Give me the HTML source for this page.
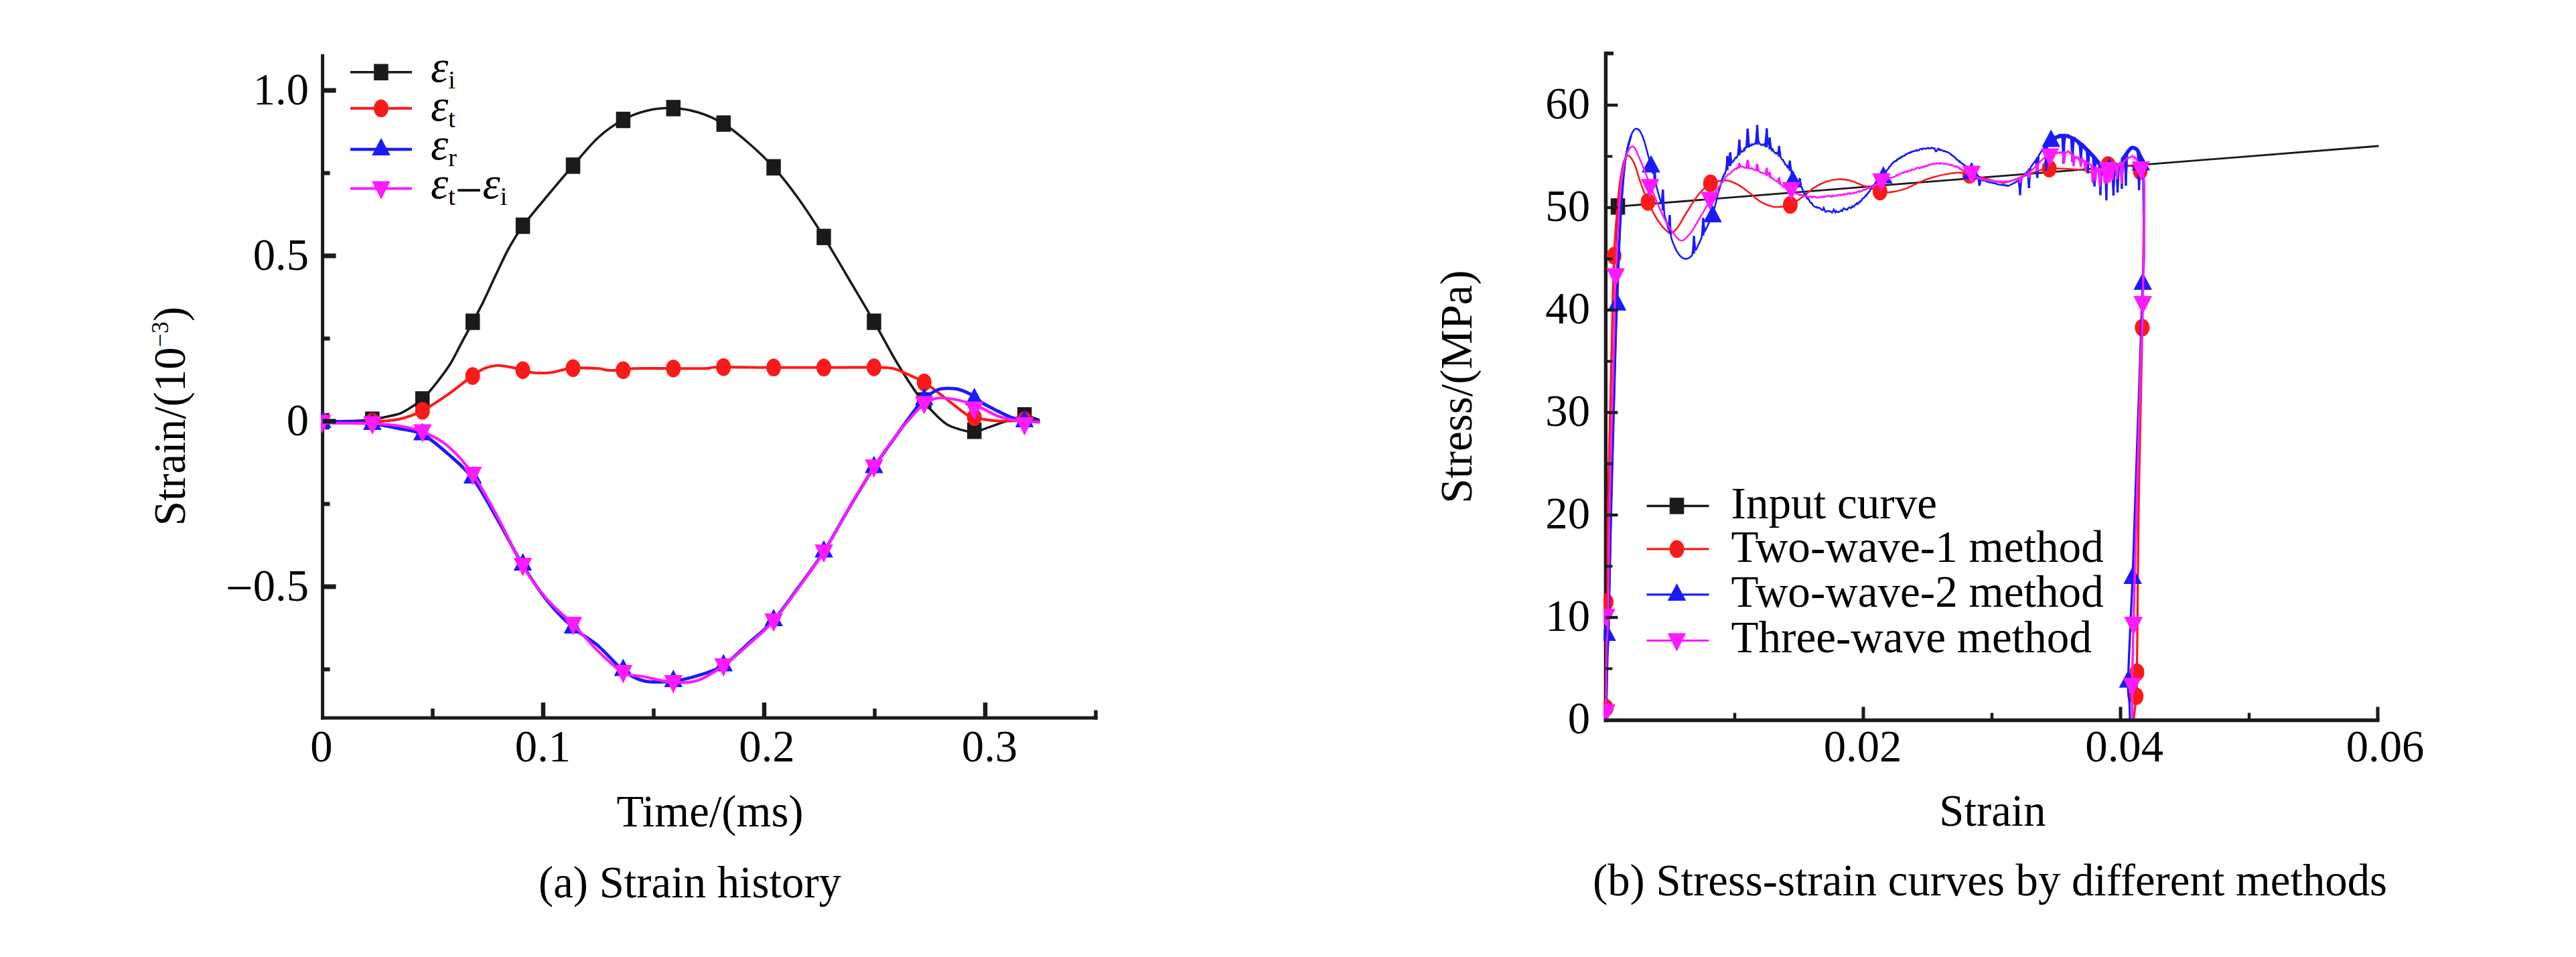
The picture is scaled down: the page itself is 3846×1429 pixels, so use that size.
<!DOCTYPE html>
<html lang="en"><head><meta charset="utf-8"><title>Strain history and stress-strain curves</title>
<style>html,body{margin:0;padding:0;background:#fff}svg{display:block}</style></head>
<body>
<svg width="3846" height="1429" viewBox="0 0 3846 1429">
<rect width="3846" height="1429" fill="#fff"/>
<defs><clipPath id="cl"><rect x="479" y="60" width="1200" height="1013"/></clipPath><clipPath id="cr"><rect x="2394.2" y="60" width="1300" height="1013"/></clipPath></defs>
<path d="M481.6 81 V1074.5" stroke="#1a1a1a" stroke-width="5" fill="none"/>
<g clip-path="url(#cl)" fill="none" stroke-linejoin="round" stroke-linecap="butt">
<path d="M481.0 629.0 C487.5 628.9 507.5 629.0 520.0 628.6 C532.5 628.2 546.7 627.7 555.9 626.7 C565.1 625.7 568.0 624.4 575.0 622.8 C582.0 621.2 590.7 619.9 597.6 617.2 C604.5 614.5 610.9 609.9 616.4 606.4 C621.9 602.9 624.2 602.5 630.5 596.2 C636.8 589.9 647.0 577.8 654.0 568.8 C661.0 559.8 667.2 551.6 672.8 542.5 C678.4 533.4 682.3 524.6 687.8 514.3 C693.3 504.0 700.4 491.1 706.0 480.5 C711.6 469.9 716.0 462.1 721.7 450.4 C727.5 438.6 734.2 423.1 740.5 410.0 C746.8 396.9 752.5 383.7 759.3 371.5 C766.0 359.3 771.2 350.3 781.0 337.0 C790.8 323.7 805.6 306.4 818.0 291.5 C830.4 276.6 843.0 261.6 855.5 247.3 C868.0 233.0 880.6 216.9 893.0 205.5 C905.4 194.1 917.7 185.8 930.0 179.0 C942.3 172.2 954.5 167.9 967.0 165.0 C979.5 162.1 992.3 160.9 1005.0 161.4 C1017.7 161.9 1030.5 164.1 1043.0 168.0 C1055.5 171.9 1067.7 177.1 1080.0 184.6 C1092.3 192.1 1104.5 202.1 1117.0 213.0 C1129.5 223.9 1142.5 235.9 1155.0 249.8 C1167.5 263.7 1179.5 279.1 1192.0 296.5 C1204.5 313.9 1217.5 334.0 1230.0 353.9 C1242.5 373.8 1254.5 394.9 1267.0 416.0 C1279.5 437.1 1292.8 459.3 1305.0 480.5 C1317.2 501.7 1328.8 524.4 1340.0 543.0 C1351.2 561.6 1363.9 580.7 1372.0 592.0 C1380.1 603.3 1381.7 603.8 1388.7 610.8 C1395.7 617.8 1404.6 628.3 1413.8 633.8 C1423.0 639.3 1436.9 642.4 1443.7 644.0 C1450.5 645.6 1451.0 643.8 1454.5 643.5 C1458.0 643.2 1457.8 644.1 1465.0 642.0 C1472.2 639.9 1486.6 634.0 1497.4 630.6 C1508.2 627.2 1520.6 622.1 1529.7 621.5 C1538.8 620.9 1548.3 626.1 1552.0 627.0" stroke="#1a1a1a" stroke-width="3.6"/>
<rect x="470.2" y="616.8" width="21.5" height="24.5" fill="#1a1a1a"/><rect x="545.1" y="614.5" width="21.5" height="24.5" fill="#1a1a1a"/><rect x="620.0" y="584.2" width="21.5" height="24.5" fill="#1a1a1a"/><rect x="695.0" y="468.2" width="21.5" height="24.5" fill="#1a1a1a"/><rect x="769.9" y="324.8" width="21.5" height="24.5" fill="#1a1a1a"/><rect x="844.8" y="235.1" width="21.5" height="24.5" fill="#1a1a1a"/><rect x="919.7" y="166.8" width="21.5" height="24.5" fill="#1a1a1a"/><rect x="994.6" y="149.2" width="21.5" height="24.5" fill="#1a1a1a"/><rect x="1069.5" y="172.3" width="21.5" height="24.5" fill="#1a1a1a"/><rect x="1144.3" y="237.6" width="21.5" height="24.5" fill="#1a1a1a"/><rect x="1219.2" y="341.6" width="21.5" height="24.5" fill="#1a1a1a"/><rect x="1294.2" y="468.2" width="21.5" height="24.5" fill="#1a1a1a"/><rect x="1369.1" y="585.8" width="21.5" height="24.5" fill="#1a1a1a"/><rect x="1444.0" y="631.0" width="21.5" height="24.5" fill="#1a1a1a"/><rect x="1518.9" y="608.0" width="21.5" height="24.5" fill="#1a1a1a"/>
<path d="M481.0 629.0 C487.5 629.1 507.6 629.4 520.0 629.5 C532.4 629.6 542.7 630.3 555.3 629.7 C567.9 629.1 582.9 628.7 595.4 626.0 C607.9 623.3 618.0 619.8 630.5 613.4 C643.0 607.0 658.2 596.4 670.6 587.8 C683.0 579.1 696.2 567.8 705.0 561.5 C713.8 555.2 716.9 552.8 723.3 550.2 C729.7 547.6 736.3 545.9 743.4 545.7 C750.5 545.5 759.9 547.8 766.0 549.0 C772.1 550.2 775.2 551.5 780.2 552.7 C785.2 554.0 789.2 555.9 796.0 556.5 C802.8 557.1 814.0 557.1 821.1 556.5 C828.2 555.9 833.0 553.8 838.6 552.7 C844.2 551.6 845.8 550.1 855.0 549.7 C864.2 549.3 885.3 549.7 893.8 550.2 C902.3 550.7 899.9 552.3 906.0 552.7 C912.1 553.1 923.5 553.1 930.2 552.7 C937.0 552.3 934.0 550.6 946.5 550.2 C959.0 549.8 987.5 550.2 1005.4 550.2 C1023.3 550.2 1042.9 550.5 1054.0 550.2 C1065.1 549.9 1055.2 548.4 1072.0 548.2 C1088.8 548.0 1128.7 548.7 1155.0 548.8 C1181.3 548.9 1205.0 548.8 1230.0 548.8 C1255.0 548.8 1288.0 548.3 1305.0 548.5 C1322.0 548.7 1324.3 548.6 1332.0 550.0 C1339.7 551.4 1343.0 553.5 1351.0 557.0 C1359.0 560.5 1370.9 565.5 1380.0 571.0 C1389.1 576.5 1394.9 581.9 1405.4 589.9 C1415.9 597.9 1434.7 613.4 1443.0 619.0 C1451.3 624.6 1447.3 621.9 1455.0 623.5 C1462.7 625.1 1476.5 627.8 1489.0 628.5 C1501.5 629.2 1519.4 628.0 1530.0 628.0 C1540.6 628.0 1549.0 628.4 1552.8 628.5" stroke="#fb1a1a" stroke-width="4.1"/>
<ellipse cx="481.0" cy="629.0" rx="11" ry="13.2" fill="#fb1a1a"/><ellipse cx="555.9" cy="629.5" rx="11" ry="13.2" fill="#fb1a1a"/><ellipse cx="630.8" cy="613.4" rx="11" ry="13.2" fill="#fb1a1a"/><ellipse cx="705.7" cy="561.5" rx="11" ry="13.2" fill="#fb1a1a"/><ellipse cx="780.6" cy="552.7" rx="11" ry="13.2" fill="#fb1a1a"/><ellipse cx="855.5" cy="549.7" rx="11" ry="13.2" fill="#fb1a1a"/><ellipse cx="930.4" cy="552.7" rx="11" ry="13.2" fill="#fb1a1a"/><ellipse cx="1005.3" cy="550.2" rx="11" ry="13.2" fill="#fb1a1a"/><ellipse cx="1080.2" cy="548.2" rx="11" ry="13.2" fill="#fb1a1a"/><ellipse cx="1155.1" cy="548.8" rx="11" ry="13.2" fill="#fb1a1a"/><ellipse cx="1230.0" cy="548.8" rx="11" ry="13.2" fill="#fb1a1a"/><ellipse cx="1304.9" cy="548.5" rx="11" ry="13.2" fill="#fb1a1a"/><ellipse cx="1379.8" cy="571.0" rx="11" ry="13.2" fill="#fb1a1a"/><ellipse cx="1454.7" cy="623.0" rx="11" ry="13.2" fill="#fb1a1a"/><ellipse cx="1529.6" cy="627.5" rx="11" ry="13.2" fill="#fb1a1a"/>
<path d="M481.0 629.5 C487.5 629.5 507.7 629.4 520.0 629.8 C532.3 630.2 542.8 630.4 555.0 632.0 C567.2 633.6 580.4 636.8 593.0 639.5 C605.6 642.2 617.9 642.2 630.4 648.5 C642.9 654.8 655.4 666.0 668.0 677.0 C680.6 688.0 693.5 698.0 706.0 714.5 C718.5 731.0 730.7 754.6 743.0 776.0 C755.3 797.4 767.7 822.8 780.0 843.0 C792.3 863.2 804.4 881.3 817.0 897.0 C829.6 912.7 842.9 925.8 855.5 937.0 C868.1 948.2 880.3 953.4 892.7 964.0 C905.1 974.6 918.5 991.7 930.0 1000.5 C941.5 1009.3 949.5 1014.0 962.0 1016.8 C974.5 1019.5 992.0 1018.3 1005.3 1017.0 C1018.6 1015.7 1029.5 1012.7 1042.0 1008.8 C1054.5 1004.9 1067.7 1001.5 1080.2 993.5 C1092.7 985.5 1104.5 972.2 1117.0 961.0 C1129.5 949.8 1142.5 940.0 1155.0 926.0 C1167.5 912.0 1179.5 894.1 1192.0 877.0 C1204.5 859.9 1217.5 843.0 1230.0 823.5 C1242.5 804.0 1254.5 781.0 1267.0 760.0 C1279.5 739.0 1292.5 716.7 1305.0 697.5 C1317.5 678.3 1330.8 660.6 1342.0 645.0 C1353.2 629.4 1365.7 612.2 1372.0 604.0 C1378.3 595.8 1377.2 598.6 1380.0 596.0 C1382.8 593.4 1384.8 591.0 1388.7 588.5 C1392.6 586.0 1397.0 582.3 1403.3 581.0 C1409.6 579.7 1419.7 579.7 1426.3 580.5 C1432.9 581.3 1438.2 583.7 1443.0 585.7 C1447.8 587.7 1450.8 589.7 1455.0 592.5 C1459.2 595.3 1462.3 598.9 1468.0 602.4 C1473.7 605.9 1482.0 610.0 1489.0 613.5 C1496.0 617.0 1503.2 620.9 1510.0 623.3 C1516.8 625.7 1522.7 627.0 1529.7 628.0 C1536.7 629.0 1548.3 628.8 1552.0 629.0" stroke="#1a1afb" stroke-width="4.8"/>
<path d="M481.0 613.0 L494.8 639.0 L467.2 639.0 Z" fill="#1a1afb"/><path d="M555.9 616.0 L569.7 642.0 L542.1 642.0 Z" fill="#1a1afb"/><path d="M630.8 631.5 L644.6 657.5 L617.0 657.5 Z" fill="#1a1afb"/><path d="M705.7 696.0 L719.5 722.0 L691.9 722.0 Z" fill="#1a1afb"/><path d="M780.6 826.0 L794.4 852.0 L766.8 852.0 Z" fill="#1a1afb"/><path d="M855.5 920.0 L869.3 946.0 L841.7 946.0 Z" fill="#1a1afb"/><path d="M930.4 983.5 L944.2 1009.5 L916.6 1009.5 Z" fill="#1a1afb"/><path d="M1005.3 1000.0 L1019.1 1026.0 L991.5 1026.0 Z" fill="#1a1afb"/><path d="M1080.2 976.5 L1094.0 1002.5 L1066.4 1002.5 Z" fill="#1a1afb"/><path d="M1155.1 909.0 L1168.9 935.0 L1141.3 935.0 Z" fill="#1a1afb"/><path d="M1230.0 806.5 L1243.8 832.5 L1216.2 832.5 Z" fill="#1a1afb"/><path d="M1304.9 680.5 L1318.7 706.5 L1291.1 706.5 Z" fill="#1a1afb"/><path d="M1379.8 579.0 L1393.6 605.0 L1366.0 605.0 Z" fill="#1a1afb"/><path d="M1454.7 579.0 L1468.5 605.0 L1440.9 605.0 Z" fill="#1a1afb"/><path d="M1529.6 612.0 L1543.4 638.0 L1515.8 638.0 Z" fill="#1a1afb"/>
<path d="M481.0 631.5 C487.5 631.6 507.7 631.8 520.0 632.0 C532.3 632.2 542.8 631.9 555.0 632.5 C567.2 633.1 580.4 633.5 593.0 635.5 C605.6 637.5 617.9 639.5 630.4 644.5 C642.9 649.5 655.4 654.9 668.0 665.5 C680.6 676.1 693.5 690.2 706.0 708.0 C718.5 725.8 730.7 749.3 743.0 772.0 C755.3 794.7 767.7 823.5 780.0 844.0 C792.3 864.5 804.4 880.3 817.0 895.0 C829.6 909.7 842.9 919.2 855.5 932.0 C868.1 944.8 880.3 960.0 892.7 972.0 C905.1 984.0 918.5 997.6 930.0 1004.0 C941.5 1010.4 949.5 1008.0 962.0 1010.5 C974.5 1013.0 992.0 1018.1 1005.3 1019.0 C1018.6 1019.9 1029.5 1020.1 1042.0 1015.9 C1054.5 1011.7 1067.7 1002.8 1080.2 994.0 C1092.7 985.2 1104.5 974.2 1117.0 963.0 C1129.5 951.8 1142.5 941.2 1155.0 927.0 C1167.5 912.8 1179.5 895.2 1192.0 878.0 C1204.5 860.8 1217.5 843.7 1230.0 824.0 C1242.5 804.3 1254.5 781.2 1267.0 760.0 C1279.5 738.8 1292.5 716.2 1305.0 697.0 C1317.5 677.8 1330.8 659.5 1342.0 645.0 C1353.2 630.5 1365.7 617.0 1372.0 610.0 C1378.3 603.0 1376.7 605.2 1380.0 603.0 C1383.3 600.8 1387.8 598.0 1392.0 596.5 C1396.2 595.0 1399.7 594.0 1405.4 594.0 C1411.1 594.0 1417.7 594.8 1426.0 596.5 C1434.3 598.2 1444.5 600.4 1455.0 604.5 C1465.5 608.6 1479.8 617.3 1489.0 621.0 C1498.2 624.7 1503.2 625.2 1510.0 626.5 C1516.8 627.8 1522.6 628.3 1529.7 629.0 C1536.8 629.7 1549.0 630.2 1552.8 630.5" stroke="#ff1aff" stroke-width="4.2"/>
<path d="M481.0 647.0 L494.8 619.5 L467.2 619.5 Z" fill="#ff1aff"/><path d="M555.9 649.0 L569.7 621.5 L542.1 621.5 Z" fill="#ff1aff"/><path d="M630.8 661.0 L644.6 633.5 L617.0 633.5 Z" fill="#ff1aff"/><path d="M705.7 724.5 L719.5 697.0 L691.9 697.0 Z" fill="#ff1aff"/><path d="M780.6 860.5 L794.4 833.0 L766.8 833.0 Z" fill="#ff1aff"/><path d="M855.5 948.5 L869.3 921.0 L841.7 921.0 Z" fill="#ff1aff"/><path d="M930.4 1020.5 L944.2 993.0 L916.6 993.0 Z" fill="#ff1aff"/><path d="M1005.3 1035.5 L1019.1 1008.0 L991.5 1008.0 Z" fill="#ff1aff"/><path d="M1080.2 1010.5 L1094.0 983.0 L1066.4 983.0 Z" fill="#ff1aff"/><path d="M1155.1 943.5 L1168.9 916.0 L1141.3 916.0 Z" fill="#ff1aff"/><path d="M1230.0 840.5 L1243.8 813.0 L1216.2 813.0 Z" fill="#ff1aff"/><path d="M1304.9 713.5 L1318.7 686.0 L1291.1 686.0 Z" fill="#ff1aff"/><path d="M1379.8 618.8 L1393.6 591.3 L1366.0 591.3 Z" fill="#ff1aff"/><path d="M1454.7 627.0 L1468.5 599.5 L1440.9 599.5 Z" fill="#ff1aff"/><path d="M1529.6 650.5 L1543.4 623.0 L1515.8 623.0 Z" fill="#ff1aff"/>
</g>
<g stroke="#1a1a1a" fill="none">
<path d="M479.1 1072.0 H1638.6" stroke-width="5"/>
<path d="M481.6 135.0 h20" stroke-width="7"/>
<path d="M481.6 382.0 h20" stroke-width="7"/>
<path d="M481.6 629.0 h20" stroke-width="7"/>
<path d="M481.6 876.0 h20" stroke-width="7"/>
<path d="M481.6 258.5 h11" stroke-width="6"/>
<path d="M481.6 505.5 h11" stroke-width="6"/>
<path d="M481.6 752.5 h11" stroke-width="6"/>
<path d="M481.6 999.5 h11" stroke-width="6"/>
<path d="M811.0 1072.0 v-23" stroke-width="6.5"/>
<path d="M1141.0 1072.0 v-23" stroke-width="6.5"/>
<path d="M1471.0 1072.0 v-23" stroke-width="6.5"/>
<path d="M646.0 1072.0 v-14" stroke-width="5.5"/>
<path d="M976.0 1072.0 v-14" stroke-width="5.5"/>
<path d="M1306.0 1072.0 v-14" stroke-width="5.5"/>
<path d="M1636.0 1074.5 v-14" stroke-width="5.5"/>
</g>
<g font-family="Liberation Serif, Times New Roman, serif" font-size="66.7" fill="#000">
<text x="461" y="156.0" text-anchor="end">1.0</text>
<text x="461" y="403.0" text-anchor="end">0.5</text>
<text x="461" y="650.0" text-anchor="end">0</text>
<text x="461" y="897.0" text-anchor="end"><tspan dy="5" font-size="72">−</tspan><tspan dy="-5">0.5</tspan></text>
<text x="480.0" y="1137" text-anchor="middle">0</text>
<text x="810.5" y="1137" text-anchor="middle">0.1</text>
<text x="1145.0" y="1137" text-anchor="middle">0.2</text>
<text x="1477.5" y="1137" text-anchor="middle">0.3</text>
<text x="1060" y="1233.5" text-anchor="middle">Time/(ms)</text>
<text x="1030" y="1339.5" text-anchor="middle">(a) Strain history</text>
<text transform="translate(275.5,621.5) rotate(-90)" text-anchor="middle">Strain/(10<tspan font-size="36" dy="-25">−3</tspan><tspan dy="25">)</tspan></text>
</g>
<path d="M523 107.8 H615" stroke="#1a1a1a" stroke-width="3.6"/>
<rect x="558.2" y="95.5" width="21.5" height="24.5" fill="#1a1a1a"/>
<path d="M523 161.8 H615" stroke="#fb1a1a" stroke-width="4.0"/>
<ellipse cx="569.0" cy="161.8" rx="11" ry="13.2" fill="#fb1a1a"/>
<path d="M523 223.0 H615" stroke="#1a1afb" stroke-width="4.4"/>
<path d="M569.0 206.0 L582.8 232.0 L555.2 232.0 Z" fill="#1a1afb"/>
<path d="M523 281.5 H615" stroke="#ff1aff" stroke-width="4.2"/>
<path d="M569.0 298.0 L582.8 270.5 L555.2 270.5 Z" fill="#ff1aff"/>
<g font-family="Liberation Serif, Times New Roman, serif" font-size="66.7" fill="#000">
<text x="643" y="122"><tspan font-style="italic" dy="0">ε</tspan><tspan font-size="38" dy="10">i</tspan></text>
<text x="643" y="180"><tspan font-style="italic" dy="0">ε</tspan><tspan font-size="38" dy="10">t</tspan></text>
<text x="643" y="238"><tspan font-style="italic" dy="0">ε</tspan><tspan font-size="38" dy="10">r</tspan></text>
<text x="643" y="296"><tspan font-style="italic" dy="0">ε</tspan><tspan font-size="38" dy="10">t</tspan><tspan dy="2" font-size="72">−</tspan><tspan font-style="italic" dy="-12">ε</tspan><tspan font-size="38" dy="10">i</tspan></text>
</g>
<path d="M2409 79.8 H2397.4 V1078.2" stroke="#1a1a1a" stroke-width="5.4" fill="none"/>
<g clip-path="url(#cr)" fill="none" stroke-linejoin="miter" stroke-miterlimit="3">
<path d="M2398 1075 L2415.5 308.3 L3551.5 218" stroke="#1a1a1a" stroke-width="2.8"/>
<rect x="2404.8" y="296.1" width="21.5" height="24.5" fill="#1a1a1a"/>
<path d="M2398.0 1075.0 C2398.1 1055.8 2398.2 989.3 2398.5 960.0 C2398.8 930.7 2399.6 932.3 2400.0 899.0 C2400.4 865.7 2399.7 826.5 2400.8 760.0 C2401.9 693.5 2405.3 563.0 2406.8 500.0 C2408.3 437.0 2408.2 416.8 2409.9 381.8 C2411.6 346.8 2414.5 313.0 2416.8 290.0 C2419.1 267.0 2421.4 253.6 2423.7 244.0 C2426.0 234.4 2427.9 232.4 2430.6 232.4 C2433.3 232.4 2436.7 237.4 2439.8 243.9 C2442.9 250.4 2445.6 261.9 2449.0 271.5 C2452.4 281.1 2455.9 291.4 2460.5 301.4 C2465.1 311.4 2471.2 323.6 2476.6 331.3 C2481.9 339.0 2488.0 345.9 2492.6 347.4 C2497.2 348.9 2499.8 345.5 2504.0 340.5 C2508.2 335.5 2512.6 325.9 2518.0 317.5 C2523.4 309.1 2530.4 297.1 2536.3 290.0 C2542.2 282.9 2546.8 278.2 2553.3 274.8 C2559.8 271.4 2568.8 269.5 2575.5 269.5 C2582.2 269.5 2587.4 271.9 2593.3 274.8 C2599.2 277.8 2605.1 282.8 2611.0 287.2 C2616.9 291.6 2622.9 297.8 2628.8 301.4 C2634.7 304.9 2641.0 307.3 2646.6 308.5 C2652.2 309.7 2658.2 308.9 2662.6 308.5 C2667.0 308.1 2668.5 308.3 2673.2 305.9 C2677.9 303.5 2685.1 298.6 2691.0 294.3 C2696.9 290.0 2702.8 284.0 2708.7 280.1 C2714.6 276.2 2720.6 273.3 2726.5 271.2 C2732.4 269.1 2738.4 268.0 2744.3 267.7 C2750.2 267.4 2756.1 268.0 2762.0 269.5 C2767.9 271.0 2775.3 274.9 2780.0 276.6 C2784.7 278.3 2785.7 278.2 2790.2 279.8 C2794.7 281.4 2801.3 284.8 2806.9 286.0 C2812.5 287.2 2817.3 287.6 2823.6 286.9 C2829.9 286.2 2835.4 285.2 2844.5 281.9 C2853.6 278.6 2865.4 271.2 2878.0 267.2 C2890.6 263.2 2908.9 259.0 2919.8 258.0 C2930.7 257.0 2934.6 259.1 2943.6 261.0 C2952.6 262.9 2965.5 267.4 2974.1 269.3 C2982.7 271.2 2985.2 274.1 2995.0 272.4 C3004.8 270.7 3021.8 262.3 3032.6 258.9 C3043.3 255.4 3047.2 252.6 3059.5 251.7 C3071.8 250.8 3095.8 252.6 3106.6 253.5 C3117.4 254.4 3117.5 258.1 3124.3 257.0 C3131.1 255.9 3139.0 248.8 3147.4 247.0 C3155.8 245.2 3166.8 244.9 3174.8 246.3 C3182.8 247.7 3191.2 252.2 3195.4 255.3 C3199.6 258.4 3199.2 263.4 3200.0 265.0" stroke="#fb1a1a" stroke-width="2.6"/><path d="M3200.0 265.0 C3200.2 270.8 3201.2 262.7 3201.0 300.0 C3200.8 337.3 3199.2 445.7 3198.5 489.0 C3197.8 532.3 3197.9 514.8 3197.0 560.0 C3196.1 605.2 3194.1 686.0 3193.0 760.0 C3191.9 834.0 3191.1 957.4 3190.5 1004.0 C3189.9 1050.6 3190.1 1027.8 3189.3 1039.6 C3188.5 1051.4 3186.1 1069.1 3185.5 1075.0" stroke="#fb1a1a" stroke-width="3.3"/><path d="M2398.0 1075.0 C2398.1 1055.8 2398.2 989.3 2398.5 960.0 C2398.8 930.7 2399.6 932.3 2400.0 899.0 C2400.4 865.7 2399.7 826.5 2400.8 760.0 C2401.9 693.5 2405.3 563.0 2406.8 500.0 C2408.3 437.0 2408.2 416.8 2409.9 381.8 C2411.6 346.8 2414.5 313.0 2416.8 290.0 C2419.1 267.0 2422.5 251.7 2423.7 244.0" stroke="#fb1a1a" stroke-width="3.3"/>
<ellipse cx="2398.0" cy="1057.0" rx="11" ry="13.2" fill="#fb1a1a"/><ellipse cx="2398.0" cy="899.0" rx="11" ry="13.2" fill="#fb1a1a"/><ellipse cx="2409.9" cy="381.8" rx="11" ry="13.2" fill="#fb1a1a"/><ellipse cx="2460.5" cy="301.4" rx="11" ry="13.2" fill="#fb1a1a"/><ellipse cx="2553.8" cy="273.8" rx="11" ry="13.2" fill="#fb1a1a"/><ellipse cx="2672.9" cy="306.0" rx="11" ry="13.2" fill="#fb1a1a"/><ellipse cx="2806.9" cy="286.0" rx="11" ry="13.2" fill="#fb1a1a"/><ellipse cx="2940.7" cy="261.0" rx="11" ry="13.2" fill="#fb1a1a"/><ellipse cx="3059.5" cy="251.7" rx="11" ry="13.2" fill="#fb1a1a"/><ellipse cx="3147.4" cy="246.4" rx="11" ry="13.2" fill="#fb1a1a"/><ellipse cx="3195.4" cy="255.3" rx="11" ry="13.2" fill="#fb1a1a"/><ellipse cx="3198.4" cy="489.1" rx="11" ry="13.2" fill="#fb1a1a"/><ellipse cx="3190.5" cy="1003.9" rx="11" ry="13.2" fill="#fb1a1a"/><ellipse cx="3189.3" cy="1039.6" rx="11" ry="13.2" fill="#fb1a1a"/>
<path d="M2398.5 1075.0 L2398.5 1074.4 L2398.5 1073.7 L2398.5 1073.0 L2398.5 1072.2 L2398.5 1071.5 L2398.5 1070.6 L2398.5 1069.8 L2398.5 1068.9 L2398.5 1067.9 L2398.5 1067.0 L2398.5 1066.0 L2398.5 1065.0 L2398.5 1063.9 L2398.5 1062.8 L2398.5 1061.7 L2398.5 1060.6 L2398.5 1059.4 L2398.5 1058.2 L2398.5 1057.0 L2398.5 1055.8 L2398.6 1054.5 L2398.6 1053.2 L2398.6 1052.0 L2398.6 1050.6 L2398.6 1049.3 L2398.6 1048.0 L2398.6 1046.6 L2398.6 1045.2 L2398.6 1043.9 L2398.6 1042.5 L2398.6 1041.1 L2398.6 1039.7 L2398.6 1038.2 L2398.6 1036.8 L2398.6 1035.4 L2398.6 1033.9 L2398.6 1032.5 L2398.6 1031.1 L2398.6 1029.6 L2398.6 1028.2 L2398.6 1026.7 L2398.6 1025.3 L2398.6 1023.8 L2398.6 1022.4 L2398.7 1021.0 L2398.7 1019.5 L2398.7 1018.1 L2398.7 1016.7 L2398.7 1015.3 L2398.7 1013.9 L2398.7 1012.5 L2398.7 1011.2 L2398.7 1009.8 L2398.7 1008.5 L2398.8 1007.2 L2398.8 1005.9 L2398.8 1004.6 L2398.8 1003.3 L2398.8 1002.1 L2398.8 1000.8 L2398.8 999.6 L2398.9 998.5 L2398.9 997.3 L2398.9 996.2 L2398.9 995.1 L2398.9 994.0 L2398.9 993.0 L2399.0 991.9 L2399.0 991.0 L2399.0 990.0 L2399.0 988.3 L2399.1 986.8 L2399.1 985.5 L2399.2 984.2 L2399.2 983.0 L2399.3 982.0 L2399.3 981.0 L2399.4 980.2 L2399.4 979.4 L2399.5 978.6 L2399.5 977.9 L2399.6 977.3 L2399.6 976.7 L2399.7 976.1 L2399.8 975.5 L2399.8 975.0 L2399.9 974.4 L2400.0 973.8 L2400.0 973.2 L2400.1 972.5 L2400.2 971.8 L2400.2 971.1 L2400.3 970.3 L2400.4 969.4 L2400.5 968.5 L2400.5 967.4 L2400.6 966.2 L2400.7 965.0 L2400.8 963.6 L2400.8 962.1 L2400.9 960.4 L2401.0 958.6 L2401.1 956.6 L2401.2 954.5 L2401.2 952.1 L2401.3 949.6 L2401.4 946.9 L2401.5 944.0 L2401.5 943.2 L2401.5 942.5 L2401.6 941.7 L2401.6 940.9 L2401.6 940.1 L2401.6 939.3 L2401.6 938.5 L2401.7 937.7 L2401.7 936.9 L2401.7 936.1 L2401.7 935.2 L2401.8 934.4 L2401.8 933.5 L2401.8 932.7 L2401.8 931.8 L2401.8 930.9 L2401.9 930.0 L2401.9 929.1 L2401.9 928.2 L2401.9 927.3 L2401.9 926.4 L2402.0 925.5 L2402.0 924.6 L2402.0 923.6 L2402.0 922.7 L2402.1 921.7 L2402.1 920.8 L2402.1 919.8 L2402.1 918.8 L2402.1 917.8 L2402.2 916.9 L2402.2 915.9 L2402.2 914.9 L2402.2 913.8 L2402.3 912.8 L2402.3 911.8 L2402.3 910.8 L2402.3 909.7 L2402.3 908.7 L2402.4 907.7 L2402.4 906.6 L2402.4 905.5 L2402.4 904.5 L2402.5 903.4 L2402.5 902.3 L2402.5 901.2 L2402.5 900.1 L2402.5 899.0 L2402.6 897.9 L2402.6 896.8 L2402.6 895.7 L2402.6 894.6 L2402.7 893.5 L2402.7 892.3 L2402.7 891.2 L2402.7 890.0 L2402.7 888.9 L2402.8 887.7 L2402.8 886.6 L2402.8 885.4 L2402.8 884.2 L2402.9 883.0 L2402.9 881.9 L2402.9 880.7 L2402.9 879.5 L2403.0 878.3 L2403.0 877.1 L2403.0 875.9 L2403.0 874.6 L2403.1 873.4 L2403.1 872.2 L2403.1 871.0 L2403.1 869.7 L2403.2 868.5 L2403.2 867.2 L2403.2 866.0 L2403.2 864.7 L2403.3 863.5 L2403.3 862.2 L2403.3 861.0 L2403.3 859.7 L2403.4 858.4 L2403.4 857.1 L2403.4 855.9 L2403.4 854.6 L2403.5 853.3 L2403.5 852.0 L2403.5 850.7 L2403.5 849.4 L2403.6 848.1 L2403.6 846.7 L2403.6 845.4 L2403.6 844.1 L2403.7 842.8 L2403.7 841.5 L2403.7 840.1 L2403.8 838.8 L2403.8 837.5 L2403.8 836.1 L2403.8 834.8 L2403.9 833.4 L2403.9 832.1 L2403.9 830.7 L2403.9 829.4 L2404.0 828.0 L2404.0 826.6 L2404.0 825.3 L2404.1 823.9 L2404.1 822.5 L2404.1 821.2 L2404.1 819.8 L2404.2 818.4 L2404.2 817.0 L2404.2 815.6 L2404.3 814.2 L2404.3 812.8 L2404.3 811.4 L2404.4 810.0 L2404.4 808.6 L2404.4 807.2 L2404.4 805.8 L2404.5 804.4 L2404.5 803.0 L2404.5 801.6 L2404.6 800.2 L2404.6 798.8 L2404.6 797.4 L2404.7 796.0 L2404.7 794.5 L2404.7 793.1 L2404.8 791.7 L2404.8 790.3 L2404.8 788.8 L2404.9 787.4 L2404.9 786.0 L2404.9 784.5 L2404.9 783.1 L2405.0 781.7 L2405.0 780.2 L2405.0 778.8 L2405.1 777.4 L2405.1 775.9 L2405.1 774.5 L2405.2 773.0 L2405.2 771.6 L2405.3 770.1 L2405.3 768.7 L2405.3 767.2 L2405.4 765.8 L2405.4 764.4 L2405.4 762.9 L2405.5 761.5 L2405.5 760.0 L2405.5 759.0 L2405.6 757.9 L2405.6 756.9 L2405.6 755.8 L2405.6 754.8 L2405.7 753.7 L2405.7 752.6 L2405.7 751.5 L2405.7 750.4 L2405.8 749.3 L2405.8 748.2 L2405.8 747.1 L2405.9 746.0 L2405.9 744.9 L2405.9 743.8 L2405.9 742.6 L2406.0 741.5 L2406.0 740.3 L2406.0 739.2 L2406.1 738.0 L2406.1 736.8 L2406.1 735.7 L2406.1 734.5 L2406.2 733.3 L2406.2 732.1 L2406.2 730.9 L2406.3 729.7 L2406.3 728.5 L2406.3 727.3 L2406.4 726.1 L2406.4 724.8 L2406.4 723.6 L2406.5 722.4 L2406.5 721.1 L2406.5 719.9 L2406.6 718.6 L2406.6 717.4 L2406.6 716.1 L2406.6 714.8 L2406.7 713.6 L2406.7 712.3 L2406.7 711.0 L2406.8 709.7 L2406.8 708.5 L2406.8 707.2 L2406.9 705.9 L2406.9 704.6 L2406.9 703.3 L2407.0 702.0 L2407.0 700.7 L2407.1 699.4 L2407.1 698.0 L2407.1 696.7 L2407.2 695.4 L2407.2 694.1 L2407.2 692.8 L2407.3 691.4 L2407.3 690.1 L2407.3 688.7 L2407.4 687.4 L2407.4 686.1 L2407.4 684.7 L2407.5 683.4 L2407.5 682.0 L2407.5 680.7 L2407.6 679.3 L2407.6 678.0 L2407.7 676.6 L2407.7 675.2 L2407.7 673.9 L2407.8 672.5 L2407.8 671.2 L2407.8 669.8 L2407.9 668.4 L2407.9 667.0 L2407.9 665.7 L2408.0 664.3 L2408.0 662.9 L2408.1 661.6 L2408.1 660.2 L2408.1 658.8 L2408.2 657.4 L2408.2 656.0 L2408.2 654.7 L2408.3 653.3 L2408.3 651.9 L2408.3 650.5 L2408.4 649.1 L2408.4 647.8 L2408.5 646.4 L2408.5 645.0 L2408.5 643.6 L2408.6 642.2 L2408.6 640.9 L2408.6 639.5 L2408.7 638.1 L2408.7 636.7 L2408.8 635.3 L2408.8 634.0 L2408.8 632.6 L2408.9 631.2 L2408.9 629.8 L2408.9 628.4 L2409.0 627.1 L2409.0 625.7 L2409.1 624.3 L2409.1 622.9 L2409.1 621.6 L2409.2 620.2 L2409.2 618.8 L2409.2 617.5 L2409.3 616.1 L2409.3 614.7 L2409.3 613.4 L2409.4 612.0 L2409.4 610.7 L2409.5 609.3 L2409.5 608.0 L2409.5 606.6 L2409.6 605.3 L2409.6 603.9 L2409.6 602.6 L2409.7 601.2 L2409.7 599.9 L2409.7 598.6 L2409.8 597.2 L2409.8 595.9 L2409.9 594.6 L2409.9 593.3 L2409.9 591.9 L2410.0 590.6 L2410.0 589.3 L2410.0 588.0 L2410.1 586.7 L2410.1 585.4 L2410.1 584.1 L2410.2 582.8 L2410.2 581.5 L2410.3 580.2 L2410.3 579.0 L2410.3 577.7 L2410.4 576.4 L2410.4 575.1 L2410.4 573.9 L2410.5 572.6 L2410.5 571.4 L2410.5 570.1 L2410.6 568.9 L2410.6 567.6 L2410.6 566.4 L2410.7 565.1 L2410.7 563.9 L2410.7 562.7 L2410.8 561.5 L2410.8 560.3 L2410.8 559.1 L2410.9 557.9 L2410.9 556.7 L2410.9 555.5 L2411.0 554.3 L2411.0 553.1 L2411.0 552.0 L2411.1 550.8 L2411.1 549.6 L2411.1 548.5 L2411.2 547.3 L2411.2 546.2 L2411.2 545.1 L2411.3 543.9 L2411.3 542.8 L2411.3 541.7 L2411.3 540.6 L2411.4 539.5 L2411.4 538.4 L2411.4 537.3 L2411.5 536.3 L2411.5 535.2 L2411.5 534.1 L2411.6 533.1 L2411.6 532.0 L2411.6 531.0 L2411.6 529.9 L2411.7 528.9 L2411.7 527.9 L2411.7 526.9 L2411.8 525.9 L2411.8 524.9 L2411.8 523.9 L2411.8 522.9 L2411.9 522.0 L2411.9 521.0 L2411.9 520.1 L2412.0 519.1 L2412.0 518.2 L2412.0 517.3 L2412.0 516.3 L2412.1 515.4 L2412.1 514.5 L2412.1 513.6 L2412.1 512.8 L2412.2 511.9 L2412.2 511.0 L2412.2 510.2 L2412.2 509.3 L2412.3 508.5 L2412.3 507.7 L2412.3 506.9 L2412.3 506.1 L2412.3 505.3 L2412.4 504.5 L2412.4 503.7 L2412.4 502.9 L2412.4 502.2 L2412.5 501.5 L2412.5 500.7 L2412.5 500.0 L2412.6 496.4 L2412.7 493.0 L2412.8 489.9 L2412.9 487.1 L2413.0 484.5 L2413.0 482.2 L2413.1 480.0 L2413.2 478.1 L2413.2 476.3 L2413.3 474.8 L2413.3 473.4 L2413.4 472.2 L2413.4 471.1 L2413.5 470.1 L2413.5 469.3 L2413.5 468.6 L2413.6 467.9 L2413.6 467.4 L2413.6 466.9 L2413.6 466.5 L2413.7 466.2 L2413.7 465.8 L2413.7 465.5 L2413.7 465.3 L2413.8 465.0 L2413.8 464.7 L2413.8 464.4 L2413.9 464.0 L2413.9 463.6 L2413.9 463.2 L2414.0 462.6 L2414.0 462.0 L2414.0 461.3 L2414.1 460.5 L2414.1 459.6 L2414.2 458.5 L2414.2 457.3 L2414.3 455.9 L2414.4 454.4 L2414.4 452.7 L2414.5 450.8 L2414.5 449.9 L2414.6 449.0 L2414.6 448.1 L2414.6 447.2 L2414.7 446.3 L2414.7 445.3 L2414.7 444.4 L2414.8 443.4 L2414.8 442.4 L2414.9 441.4 L2414.9 440.3 L2414.9 439.3 L2415.0 438.2 L2415.0 437.2 L2415.0 436.1 L2415.1 435.0 L2415.1 433.9 L2415.2 432.8 L2415.2 431.7 L2415.2 430.5 L2415.3 429.4 L2415.3 428.2 L2415.4 427.0 L2415.4 425.9 L2415.4 424.7 L2415.5 423.5 L2415.5 422.3 L2415.6 421.0 L2415.6 419.8 L2415.7 418.6 L2415.7 417.3 L2415.7 416.1 L2415.8 414.8 L2415.8 413.6 L2415.9 412.3 L2415.9 411.0 L2416.0 409.8 L2416.0 408.5 L2416.0 407.2 L2416.1 405.9 L2416.1 404.6 L2416.2 403.3 L2416.2 402.0 L2416.3 400.6 L2416.3 399.3 L2416.4 398.0 L2416.4 396.7 L2416.5 395.4 L2416.5 394.0 L2416.6 392.7 L2416.6 391.4 L2416.7 390.0 L2416.7 388.7 L2416.8 387.4 L2416.8 386.0 L2416.9 384.7 L2416.9 383.4 L2417.0 382.0 L2417.0 380.7 L2417.1 379.4 L2417.1 378.0 L2417.2 376.7 L2417.2 375.4 L2417.3 374.1 L2417.3 372.7 L2417.4 371.4 L2417.4 370.1 L2417.5 368.8 L2417.5 367.5 L2417.6 366.2 L2417.6 364.9 L2417.7 363.6 L2417.7 362.3 L2417.8 361.0 L2417.8 359.7 L2417.9 358.5 L2418.0 357.2 L2418.0 355.9 L2418.1 354.7 L2418.1 353.4 L2418.2 352.2 L2418.2 351.0 L2418.3 349.8 L2418.4 348.6 L2418.4 347.4 L2418.5 346.2 L2418.5 345.0 L2418.6 343.8 L2418.6 342.6 L2418.7 341.5 L2418.8 340.4 L2418.8 339.2 L2418.9 338.1 L2418.9 337.0 L2419.0 335.9 L2419.1 334.5 L2419.2 333.2 L2419.2 331.8 L2419.3 330.5 L2419.4 329.1 L2419.5 327.7 L2419.5 326.4 L2419.6 325.0 L2419.7 323.6 L2419.8 322.3 L2419.9 320.9 L2419.9 319.6 L2420.0 318.2 L2420.1 316.8 L2420.2 315.5 L2420.3 314.1 L2420.4 312.8 L2420.4 311.4 L2420.5 310.1 L2420.6 308.8 L2420.7 307.4 L2420.8 306.1 L2420.9 304.8 L2421.0 303.4 L2421.0 302.1 L2421.1 300.8 L2421.2 299.5 L2421.3 298.2 L2421.4 296.8 L2421.5 295.5 L2421.6 294.2 L2421.7 293.0 L2421.7 291.7 L2421.8 290.4 L2421.9 289.1 L2422.0 287.8 L2422.1 286.6 L2422.2 285.3 L2422.3 284.1 L2422.4 282.8 L2422.5 281.6 L2422.6 280.3 L2422.7 279.1 L2422.8 277.9 L2422.9 276.7 L2423.0 275.5 L2423.1 274.3 L2423.2 273.1 L2423.2 271.9 L2423.3 270.7 L2423.4 269.6 L2423.5 268.4 L2423.6 267.3 L2423.7 266.2 L2423.8 265.0 L2423.9 263.9 L2424.0 262.8 L2424.1 261.7 L2424.2 260.6 L2424.3 259.5 L2424.4 258.5 L2424.5 257.4 L2424.6 256.4 L2424.7 255.4 L2424.8 254.3 L2425.0 253.3 L2425.1 252.3 L2425.2 251.3 L2425.3 250.4 L2425.4 249.4 L2425.5 248.5 L2425.6 247.5 L2425.7 246.6 L2425.8 245.7 L2425.9 244.8 L2426.0 243.9 L2426.2 242.0 L2426.5 240.2 L2426.7 238.4 L2427.0 236.7 L2427.2 235.1 L2427.4 233.4 L2427.7 231.9 L2428.0 230.4 L2428.2 228.9 L2428.5 227.5 L2428.7 226.1 L2429.0 224.8 L2429.3 223.5 L2429.5 222.2 L2429.8 221.0 L2430.1 219.8 L2430.3 218.6 L2430.6 217.5 L2430.9 216.4 L2431.1 215.4 L2431.4 214.4 L2431.7 213.4 L2432.0 212.4 L2432.2 211.5 L2432.5 210.6 L2432.8 209.7 L2433.1 208.8 L2433.3 208.0 L2433.6 207.1 L2433.9 206.3 L2434.1 205.5 L2434.4 204.8 L2434.7 204.0 L2434.9 203.2 L2435.2 202.5 L2436.0 200.3 L2436.9 198.4 L2437.7 196.8 L2438.5 195.5 L2439.4 194.4 L2440.2 193.6 L2441.1 192.9 L2441.9 192.5 L2442.7 192.3 L2443.6 192.3 L2444.4 192.4 L2445.1 192.6 L2445.7 193.0 L2446.3 193.4 L2447.0 194.0 L2447.6 194.7 L2448.2 195.6 L2448.9 196.5 L2449.5 197.6 L2450.2 198.9 L2450.8 200.2 L2451.5 201.7 L2452.2 203.4 L2452.9 205.2 L2453.6 207.1 L2453.9 207.9 L2454.2 208.8 L2454.5 209.7 L2454.8 210.6 L2455.1 211.5 L2455.4 212.5 L2455.7 213.5 L2456.0 214.6 L2456.3 215.6 L2456.6 216.7 L2456.9 217.8 L2457.2 219.0 L2457.6 220.1 L2457.9 221.3 L2458.2 222.5 L2458.5 223.7 L2458.8 224.9 L2459.2 226.2 L2459.5 227.4 L2459.8 228.7 L2460.2 230.0 L2460.5 231.3 L2460.8 232.6 L2461.2 233.9 L2461.5 235.2 L2461.8 236.5 L2462.2 237.9 L2462.5 239.2 L2462.9 240.5 L2463.2 241.9 L2463.6 243.2 L2463.9 244.5 L2464.3 245.9 L2464.6 247.2 L2465.0 248.5 L2465.3 249.6 L2465.6 250.7 L2465.9 251.7 L2466.2 252.8 L2466.5 253.9 L2466.8 255.0 L2467.1 256.2 L2467.4 257.3 L2467.7 258.4 L2468.0 259.4 L2468.3 257.7 L2468.6 256.0 L2469.0 254.3 L2469.3 252.6 L2469.6 250.9 L2469.9 249.2 L2470.2 247.8 L2470.5 251.8 L2470.9 255.9 L2471.2 260.0 L2471.5 264.2 L2471.8 268.3 L2472.2 272.5 L2472.5 275.9 L2472.8 277.1 L2473.1 278.3 L2473.5 279.5 L2473.8 280.7 L2474.1 282.0 L2474.5 283.2 L2474.8 284.4 L2475.1 285.6 L2475.5 286.8 L2475.8 288.0 L2476.1 289.3 L2476.5 290.5 L2476.8 291.7 L2477.2 293.0 L2477.5 294.2 L2477.9 295.4 L2478.2 296.6 L2478.6 297.9 L2478.9 299.1 L2479.2 300.2 L2479.5 301.4 L2479.9 302.6 L2480.2 303.7 L2480.5 304.4 L2480.9 301.1 L2481.2 297.6 L2481.6 294.2 L2481.9 290.7 L2482.2 287.3 L2482.6 283.8 L2482.9 286.9 L2483.3 293.0 L2483.7 299.1 L2484.0 305.2 L2484.4 311.4 L2484.7 317.5 L2485.1 321.3 L2485.4 322.5 L2485.8 323.8 L2486.2 325.1 L2486.5 326.4 L2486.9 327.7 L2487.2 328.9 L2487.6 330.2 L2487.9 331.4 L2488.3 332.7 L2488.7 333.9 L2489.0 335.1 L2489.4 336.4 L2489.7 337.6 L2490.1 338.7 L2490.4 339.9 L2490.7 339.3 L2491.1 336.3 L2491.4 333.3 L2491.8 330.3 L2492.1 327.3 L2492.4 324.3 L2492.7 321.4 L2493.1 324.9 L2493.4 329.8 L2493.7 334.6 L2494.0 339.3 L2494.3 344.0 L2494.6 348.6 L2494.9 353.1 L2495.5 356.0 L2496.1 357.6 L2496.6 359.2 L2497.2 360.7 L2497.7 362.1 L2498.2 363.5 L2498.7 364.8 L2499.2 366.0 L2499.7 367.2 L2500.2 368.3 L2500.7 369.4 L2501.2 370.4 L2501.6 371.4 L2502.1 372.4 L2502.6 373.3 L2503.0 374.1 L2503.5 375.0 L2504.0 375.8 L2504.5 376.6 L2504.9 377.3 L2505.4 378.1 L2505.9 378.8 L2506.4 379.5 L2507.5 380.9 L2508.5 382.1 L2509.6 383.1 L2510.6 384.0 L2511.7 384.8 L2512.7 385.4 L2513.8 385.8 L2514.8 386.2 L2515.9 386.4 L2517.0 386.4 L2518.0 386.4 L2519.0 386.2 L2519.9 386.0 L2520.9 385.6 L2521.8 385.0 L2522.8 384.4 L2523.7 383.7 L2524.7 382.8 L2525.6 381.9 L2526.5 380.8 L2527.5 372.9 L2528.4 360.9 L2529.4 355.6 L2529.9 361.0 L2530.5 366.2 L2531.0 371.3 L2531.5 373.9 L2532.0 372.9 L2532.5 372.0 L2533.1 371.0 L2533.6 370.0 L2534.1 369.0 L2534.6 367.9 L2535.1 366.8 L2535.6 365.6 L2536.2 364.5 L2536.7 363.3 L2537.3 362.1 L2537.8 360.8 L2538.4 359.6 L2539.0 358.3 L2539.6 357.0 L2540.3 355.7 L2540.9 352.0 L2541.4 345.9 L2541.8 339.7 L2542.3 333.2 L2542.8 326.6 L2543.3 329.0 L2543.8 333.9 L2544.4 338.8 L2544.9 343.9 L2545.4 345.2 L2546.0 344.1 L2546.5 343.0 L2547.1 341.9 L2547.7 340.7 L2548.2 339.6 L2548.8 338.5 L2549.4 337.3 L2549.9 336.1 L2550.5 335.0 L2551.0 333.8 L2551.6 332.6 L2552.1 331.5 L2552.7 330.3 L2553.2 329.1 L2553.7 327.9 L2554.2 326.8 L2554.7 325.6 L2555.2 324.4 L2555.7 323.3 L2556.1 322.1 L2556.6 320.9 L2557.0 319.8 L2557.4 318.7 L2557.8 317.5 L2558.2 316.3 L2558.5 315.2 L2558.9 314.0 L2559.3 312.8 L2559.6 311.6 L2559.9 310.4 L2560.2 309.2 L2560.5 308.0 L2560.8 306.8 L2561.1 305.6 L2561.4 304.4 L2561.7 303.2 L2562.0 302.0 L2562.3 300.8 L2562.6 299.6 L2562.8 298.4 L2563.1 297.2 L2563.4 296.0 L2563.7 294.8 L2563.9 293.7 L2564.2 292.5 L2564.5 291.4 L2564.8 290.2 L2565.1 289.1 L2565.4 288.0 L2565.7 286.9 L2566.0 285.8 L2566.3 284.7 L2566.6 283.7 L2567.0 282.4 L2567.4 281.2 L2567.8 279.9 L2568.2 278.7 L2568.5 277.5 L2568.9 276.3 L2569.3 275.1 L2569.6 273.9 L2570.0 272.2 L2570.4 270.6 L2570.8 270.9 L2571.1 268.1 L2571.5 268.4 L2571.9 266.7 L2572.3 264.7 L2572.8 265.0 L2573.2 262.5 L2573.6 262.6 L2574.1 260.4 L2574.6 259.4 L2575.1 259.3 L2575.6 259.5 L2576.1 256.3 L2576.7 255.5 L2577.3 251.1 L2577.9 245.6 L2578.5 237.8 L2579.2 233.6 L2579.9 240.5 L2580.6 243.1 L2581.3 247.5 L2582.1 238.2 L2582.8 230.1 L2583.6 229.3 L2584.4 235.7 L2585.2 243.1 L2586.0 241.9 L2586.8 242.1 L2587.6 241.3 L2588.5 239.5 L2589.3 239.1 L2590.1 236.6 L2590.9 235.7 L2591.7 235.2 L2592.5 235.8 L2593.3 234.1 L2594.0 232.9 L2594.7 231.6 L2595.4 223.3 L2596.1 215.2 L2596.8 209.3 L2597.9 218.8 L2599.0 226.9 L2600.0 227.2 L2601.0 226.0 L2601.9 226.1 L2602.9 224.8 L2603.8 222.6 L2604.7 223.9 L2605.6 220.6 L2606.5 220.8 L2607.3 218.1 L2608.2 204.7 L2609.1 194.0 L2610.1 199.5 L2611.0 212.4 L2612.2 218.2 L2613.4 217.0 L2614.6 217.4 L2615.8 215.3 L2617.0 216.0 L2618.2 215.4 L2619.3 215.1 L2620.5 214.5 L2621.7 210.0 L2622.9 195.1 L2624.1 194.1 L2625.3 209.8 L2626.5 213.2 L2627.7 215.3 L2628.8 215.4 L2630.0 216.7 L2631.1 216.6 L2632.3 215.4 L2633.5 216.2 L2634.6 217.6 L2635.8 212.2 L2637.0 199.4 L2638.3 197.8 L2639.5 213.6 L2640.4 215.7 L2641.4 211.5 L2642.4 205.5 L2643.3 213.6 L2644.3 221.7 L2645.3 224.5 L2646.3 222.8 L2647.3 224.7 L2648.3 225.8 L2649.3 227.6 L2650.3 228.2 L2651.3 229.3 L2652.4 228.4 L2653.4 229.8 L2654.5 228.3 L2655.5 223.8 L2656.2 220.0 L2656.9 222.0 L2657.7 227.9 L2658.4 233.9 L2659.1 235.6 L2659.9 237.2 L2660.6 238.5 L2661.4 238.5 L2662.2 238.7 L2662.9 240.9 L2663.7 241.8 L2664.5 243.4 L2665.2 245.6 L2666.0 245.8 L2666.7 246.3 L2667.5 247.7 L2668.2 248.9 L2669.0 248.1 L2669.7 251.6 L2670.4 250.2 L2671.1 246.9 L2671.8 243.2 L2672.5 241.5 L2673.2 246.7 L2674.0 251.7 L2674.7 257.8 L2675.5 257.2 L2676.2 258.2 L2676.9 259.7 L2677.7 260.7 L2678.4 262.2 L2679.1 262.4 L2679.8 263.3 L2680.5 264.8 L2681.2 265.7 L2681.9 267.5 L2682.5 267.5 L2683.2 271.1 L2683.8 271.3 L2684.5 270.9 L2685.1 272.2 L2685.7 271.2 L2686.3 269.5 L2686.8 267.1 L2687.4 267.6 L2688.1 272.6 L2688.8 275.3 L2689.4 279.3 L2690.0 280.0 L2690.6 281.1 L2691.1 282.9 L2691.6 283.7 L2692.1 286.4 L2692.6 285.4 L2693.1 286.0 L2693.7 289.8 L2694.3 289.6 L2694.9 289.5 L2695.6 291.7 L2696.3 291.2 L2697.0 293.6 L2697.7 296.0 L2698.4 296.6 L2699.1 297.1 L2699.8 296.8 L2700.5 298.2 L2701.2 298.7 L2702.0 301.2 L2702.8 301.6 L2703.6 303.2 L2704.5 303.1 L2705.4 303.7 L2706.3 306.1 L2707.3 307.3 L2708.3 307.8 L2709.4 308.5 L2710.5 309.3 L2711.5 309.6 L2712.4 309.0 L2713.5 310.2 L2714.6 310.4 L2715.7 310.1 L2716.8 310.6 L2717.9 311.7 L2719.1 312.2 L2720.3 313.7 L2721.6 313.4 L2722.8 310.3 L2724.0 313.4 L2725.3 316.0 L2726.6 316.3 L2727.8 315.2 L2729.1 315.1 L2730.4 315.3 L2731.7 315.4 L2732.9 315.6 L2734.2 316.7 L2735.4 317.5 L2736.6 315.9 L2737.8 312.8 L2739.0 314.6 L2740.2 317.1 L2741.5 315.2 L2742.7 316.4 L2744.0 316.8 L2745.2 316.3 L2746.5 316.0 L2747.8 315.0 L2749.0 314.0 L2750.3 315.1 L2751.5 312.4 L2752.8 310.9 L2754.0 312.2 L2755.2 312.7 L2756.4 312.3 L2757.6 313.2 L2758.7 312.2 L2759.8 310.4 L2760.9 309.9 L2762.0 309.5 L2763.1 310.8 L2764.3 310.0 L2765.4 307.9 L2766.4 308.9 L2767.5 308.7 L2768.5 307.3 L2769.6 306.0 L2770.6 305.8 L2771.5 304.1 L2772.5 303.2 L2773.5 304.7 L2774.4 303.3 L2775.4 302.2 L2776.3 302.4 L2777.2 300.5 L2778.1 300.7 L2779.1 299.8 L2780.0 297.5 L2780.9 297.0 L2781.8 296.2 L2782.6 295.3 L2783.4 295.0 L2784.3 293.6 L2785.1 292.9 L2785.9 291.5 L2786.7 291.8 L2787.5 289.9 L2788.2 289.1 L2789.0 288.3 L2789.8 287.8 L2790.6 286.0 L2791.3 285.7 L2792.1 284.1 L2792.8 283.1 L2793.5 282.1 L2794.3 280.3 L2795.0 280.0 L2795.7 278.6 L2796.4 277.4 L2797.1 277.8 L2797.8 275.9 L2798.5 275.6 L2799.4 274.9 L2800.3 273.6 L2801.2 272.3 L2802.0 271.6 L2802.8 270.8 L2803.7 270.3 L2804.5 268.4 L2805.2 268.3 L2806.0 266.9 L2806.8 266.2 L2807.6 266.1 L2808.5 264.8 L2809.3 264.0 L2810.1 263.4 L2811.0 262.7 L2811.9 260.9 L2812.6 260.3 L2813.3 259.3 L2814.1 258.4 L2814.8 257.7 L2815.5 256.4 L2816.2 255.6 L2816.9 254.5 L2817.6 254.2 L2818.4 252.9 L2819.1 252.2 L2819.9 251.3 L2820.7 249.2 L2821.5 248.7 L2822.3 248.3 L2823.1 247.2 L2824.0 245.1 L2824.9 244.1 L2825.8 243.7 L2826.8 242.3 L2827.8 241.7 L2828.7 240.7 L2829.6 241.0 L2830.5 240.5 L2831.4 240.0 L2832.4 238.1 L2833.3 238.3 L2834.3 237.5 L2835.3 236.0 L2836.4 236.6 L2837.4 236.0 L2838.5 234.2 L2839.5 234.7 L2840.6 233.2 L2841.7 232.8 L2842.8 233.0 L2843.9 232.1 L2845.0 230.5 L2846.1 230.4 L2847.2 230.0 L2848.4 229.1 L2849.5 228.4 L2850.6 228.1 L2851.8 228.3 L2852.9 226.7 L2854.0 227.2 L2855.2 226.5 L2856.4 225.5 L2857.6 225.6 L2858.8 225.6 L2860.0 225.1 L2861.2 224.0 L2862.5 225.1 L2863.7 224.4 L2865.0 224.4 L2866.2 222.7 L2867.5 222.7 L2868.8 222.0 L2870.0 223.0 L2871.3 221.9 L2872.5 221.5 L2873.8 221.7 L2875.0 222.4 L2876.2 222.1 L2877.4 221.0 L2878.6 220.8 L2879.8 221.9 L2881.0 221.3 L2882.1 221.5 L2883.4 220.6 L2884.7 220.6 L2886.0 221.7 L2887.3 221.4 L2888.5 221.6 L2889.8 226.0 L2891.1 226.0 L2892.3 223.7 L2893.6 222.0 L2894.8 223.6 L2896.0 222.7 L2897.2 224.3 L2898.4 224.0 L2899.6 224.2 L2900.8 225.0 L2901.9 226.0 L2903.0 225.4 L2904.1 225.6 L2905.1 226.6 L2906.2 226.6 L2907.2 226.9 L2908.4 227.5 L2909.5 228.0 L2910.6 228.8 L2911.7 229.7 L2912.7 230.3 L2913.6 231.8 L2914.6 231.8 L2915.5 232.8 L2916.4 233.1 L2917.3 234.1 L2918.2 234.4 L2919.1 235.6 L2920.0 236.0 L2921.0 238.0 L2921.9 238.5 L2923.0 238.7 L2924.0 240.0 L2924.9 241.4 L2925.9 240.8 L2926.8 242.6 L2927.8 242.7 L2928.8 243.6 L2929.9 244.9 L2930.9 244.9 L2931.9 245.8 L2933.0 246.9 L2934.0 248.1 L2935.0 247.9 L2936.0 249.4 L2937.1 250.0 L2938.1 250.6 L2939.0 251.0 L2940.0 251.6 L2940.9 251.9 L2941.9 252.7 L2942.7 253.3 L2943.6 255.1 L2944.7 255.2 L2945.7 256.0 L2946.7 256.8 L2947.6 258.9 L2948.5 259.9 L2949.4 260.4 L2950.3 260.7 L2951.1 261.5 L2951.9 262.4 L2952.8 263.5 L2953.7 266.9 L2954.5 272.9 L2955.5 276.6 L2956.4 273.2 L2957.4 268.5 L2958.5 267.9 L2959.6 268.0 L2960.8 269.8 L2962.0 269.3 L2963.2 269.8 L2964.4 269.7 L2965.6 270.8 L2966.8 271.4 L2968.0 271.8 L2969.2 271.7 L2970.5 272.5 L2971.7 272.1 L2972.9 272.8 L2974.1 272.8 L2975.3 273.6 L2976.6 273.3 L2977.8 273.6 L2979.1 274.2 L2980.4 274.3 L2981.7 275.1 L2982.9 275.2 L2984.2 275.7 L2985.4 275.7 L2986.6 275.9 L2987.7 276.3 L2988.8 275.6 L2989.8 275.6 L2990.8 276.8 L2992.4 275.7 L2993.7 277.0 L2994.8 277.2 L2995.8 276.5 L2997.0 277.8 L2998.3 277.8 L3000.0 276.8 L3000.8 276.3 L3001.7 275.9 L3002.6 275.5 L3003.6 275.1 L3004.6 274.6 L3005.7 274.1 L3006.7 273.5 L3007.8 272.9 L3008.9 272.3 L3010.0 271.6 L3011.2 270.9 L3012.3 270.2 L3013.4 269.4 L3014.6 276.8 L3015.7 288.0 L3016.7 282.7 L3017.8 270.3 L3018.6 265.2 L3019.4 264.4 L3020.1 263.6 L3020.9 262.8 L3021.7 262.0 L3022.5 261.1 L3023.3 260.2 L3024.1 259.3 L3024.9 258.3 L3025.7 257.4 L3026.5 256.4 L3027.3 257.6 L3028.1 266.6 L3028.8 275.5 L3029.6 276.5 L3030.4 265.8 L3031.1 255.1 L3031.9 249.4 L3032.6 248.4 L3033.4 247.5 L3034.1 246.5 L3034.8 245.5 L3035.5 244.6 L3036.3 243.6 L3037.0 242.5 L3037.7 241.5 L3038.4 240.4 L3039.2 239.4 L3039.9 243.3 L3040.6 251.7 L3041.2 259.9 L3041.9 262.1 L3042.6 251.9 L3043.3 241.8 L3043.9 232.0 L3044.6 230.9 L3045.2 229.9 L3045.9 228.9 L3046.5 227.9 L3047.2 227.0 L3047.8 226.0 L3048.4 225.1 L3049.1 224.2 L3049.7 223.3 L3050.5 222.2 L3051.3 221.1 L3052.2 220.0 L3052.9 221.5 L3053.7 234.4 L3054.5 247.3 L3055.3 249.7 L3056.1 235.0 L3056.8 220.5 L3057.6 213.0 L3058.4 212.2 L3059.1 211.3 L3059.9 210.6 L3060.7 211.2 L3061.4 211.0 L3062.2 206.3 L3063.3 207.8 L3064.5 207.0 L3065.6 208.4 L3066.8 207.7 L3067.9 207.4 L3069.1 205.6 L3070.2 207.1 L3071.3 205.5 L3072.5 205.4 L3073.5 202.3 L3074.6 200.9 L3076.0 201.2 L3077.4 202.2 L3078.7 201.7 L3079.9 230.5 L3081.2 236.6 L3082.5 212.0 L3083.9 203.4 L3085.3 204.0 L3086.4 203.1 L3087.5 200.5 L3088.6 205.6 L3089.7 205.7 L3090.8 204.7 L3092.0 206.5 L3093.1 226.6 L3094.3 236.8 L3095.4 222.7 L3096.6 206.0 L3097.7 205.6 L3098.6 207.4 L3099.6 210.8 L3100.5 208.3 L3101.5 212.2 L3102.4 214.3 L3103.3 212.1 L3104.3 212.2 L3105.2 221.9 L3106.2 233.9 L3107.1 234.6 L3108.1 224.3 L3109.1 217.9 L3110.1 215.5 L3110.9 216.7 L3111.8 218.1 L3112.7 221.9 L3113.6 220.1 L3114.5 222.6 L3115.4 227.1 L3116.4 242.6 L3117.3 255.9 L3118.2 244.9 L3119.2 231.8 L3120.1 228.8 L3121.0 227.4 L3121.8 229.7 L3122.7 230.3 L3123.5 231.2 L3124.3 229.9 L3125.2 244.1 L3126.2 258.8 L3127.1 278.6 L3128.0 262.5 L3128.8 241.5 L3129.7 238.3 L3130.5 241.5 L3131.3 243.4 L3132.1 241.2 L3132.9 241.0 L3133.6 241.5 L3134.3 259.3 L3135.0 270.0 L3136.4 282.4 L3137.6 255.4 L3138.7 247.2 L3139.7 250.2 L3140.8 246.3 L3142.0 249.5 L3143.3 263.5 L3144.5 294.3 L3145.8 277.1 L3147.2 248.7 L3148.5 251.5 L3150.0 249.9 L3151.1 248.1 L3152.3 248.1 L3153.5 256.6 L3154.8 280.1 L3156.1 278.6 L3157.3 253.2 L3158.6 248.3 L3159.9 256.8 L3160.7 273.1 L3161.5 284.2 L3162.3 274.4 L3163.2 258.3 L3164.0 242.6 L3164.8 244.8 L3165.7 242.9 L3166.5 258.5 L3167.3 271.1 L3168.2 276.3 L3169.0 259.7 L3169.7 245.7 L3170.5 236.1 L3171.3 234.1 L3172.1 240.0 L3172.9 255.1 L3173.7 269.7 L3174.5 263.8 L3175.3 249.4 L3176.0 230.4 L3176.8 228.5 L3177.5 224.7 L3178.1 223.9 L3178.8 224.0 L3179.4 222.1 L3180.9 221.3 L3182.2 222.7 L3183.3 222.1 L3184.7 221.8 L3185.8 221.3 L3187.0 222.8 L3188.3 223.5 L3189.6 222.7 L3190.7 224.4 L3191.8 233.2 L3192.2 247.6 L3192.6 257.6 L3193.0 269.5 L3193.4 279.4 L3193.8 279.9 L3194.1 271.6 L3194.4 268.1 L3194.8 258.1 L3195.1 253.0 L3195.4 246.0 L3195.7 239.5 L3196.0 239.6 L3196.3 241.9 L3196.6 240.1 L3196.8 242.9 L3197.1 242.8 L3197.3 245.1 L3197.6 245.8 L3197.9 246.3 L3198.1 249.0 L3198.4 250.4 L3198.6 251.7 L3198.9 253.0 L3199.1 254.3 L3199.3 255.4 L3199.5 256.5 L3199.6 257.4 L3199.8 258.2 L3199.9 258.9" stroke="#1a1afb" stroke-width="2.6"/><path d="M3199.9 258.9 L3199.9 263.6 L3200.0 269.6 L3200.1 276.7 L3200.2 284.6 L3200.3 293.3 L3200.4 302.5 L3200.5 312.1 L3200.6 321.9 L3200.7 331.6 L3200.8 341.2 L3200.9 350.4 L3200.9 359.1 L3201.0 367.0 L3201.0 374.0 L3201.0 380.0 L3200.8 393.3 L3200.5 398.6 L3199.9 404.6 L3199.2 419.7 L3199.0 425.2 L3198.8 431.2 L3198.6 437.7 L3198.3 444.5 L3198.1 451.8 L3197.8 459.4 L3197.5 467.3 L3197.3 475.6 L3197.0 484.1 L3196.7 493.0 L3196.4 502.0 L3196.1 511.3 L3195.7 520.8 L3195.4 530.4 L3195.1 540.1 L3194.7 550.0 L3194.4 560.0 L3194.2 567.0 L3193.9 574.3 L3193.6 581.9 L3193.4 589.7 L3193.1 597.8 L3192.8 606.1 L3192.5 614.5 L3192.2 623.1 L3191.9 631.8 L3191.6 640.5 L3191.3 649.4 L3191.0 658.2 L3190.7 667.0 L3190.4 675.7 L3190.1 684.4 L3189.8 693.0 L3189.5 701.4 L3189.2 709.6 L3189.0 717.7 L3188.7 725.5 L3188.4 733.1 L3188.2 740.3 L3187.9 747.2 L3187.7 753.8 L3187.5 760.0 L3187.1 771.6 L3186.8 781.7 L3186.5 790.5 L3186.2 798.4 L3186.0 805.6 L3185.8 812.3 L3185.6 818.9 L3185.3 825.6 L3185.1 832.7 L3184.8 840.4 L3184.5 849.1 L3184.1 859.0 L3183.8 866.0 L3183.5 873.5 L3183.1 881.6 L3182.8 890.0 L3182.4 898.8 L3181.9 907.8 L3181.5 917.0 L3181.1 926.4 L3180.6 935.7 L3180.2 945.0 L3179.8 954.2 L3179.4 963.1 L3179.0 971.8 L3178.6 980.1 L3178.3 988.0 L3178.0 995.4 L3177.8 1002.2 L3177.6 1008.4 L3177.4 1013.8 L3177.3 1031.3 L3177.9 1039.7 L3178.8 1044.1 L3179.4 1049.5 L3179.7 1059.7 L3179.9 1068.8 L3180.0 1075.0" stroke="#1a1afb" stroke-width="3.3"/><path d="M2398.5 1075.0 C2398.6 1060.8 2398.5 1011.8 2399.0 990.0 C2399.5 968.2 2400.4 982.3 2401.5 944.0 C2402.6 905.7 2403.7 834.0 2405.5 760.0 C2407.3 686.0 2411.0 551.5 2412.5 500.0 C2414.0 448.5 2413.4 478.2 2414.5 450.8 C2415.6 423.4 2417.1 370.4 2419.0 335.9 C2420.9 301.4 2423.3 266.1 2426.0 243.9 C2428.7 221.7 2433.7 209.4 2435.2 202.5" stroke="#1a1afb" stroke-width="3.3"/>
<path d="M2470.2 268.6 V247.1M2482.7 314.5 V283.0M2492.8 349.6 V321.1M2529.1 378.7 V352.2M2542.9 351.8 V325.3M2579.0 254.2 V232.7M2583.2 248.1 V227.6M2596.8 231.9 V208.4M2609.3 220.4 V191.9M2623.5 215.9 V186.4M2637.7 220.1 V191.6M2642.2 223.1 V205.6M2656.3 234.3 V217.8M2672.3 255.2 V239.7M2687.4 278.1 V266.6M2955.3 264.0 V277.5M3016.0 266.0 V291.5M3029.3 251.4 V280.9M3041.7 234.3 V265.8M3055.0 214.6 V255.1M3080.8 201.1 V244.6M3094.1 204.5 V242.0M3106.6 213.5 V238.0M3117.2 223.4 V258.9M3127.0 234.1 V277.6M3135.9 244.1 V291.6M3144.8 247.7 V299.2M3155.4 248.4 V291.9M3161.6 245.0 V287.5M3167.9 237.6 V282.1M3174.0 229.7 V277.2M3193.6 227.6 V284.1" stroke="#1a1afb" stroke-width="3.6"/><path d="M3058.1 212.5 L3059.1 211.3 L3060.1 210.3 L3061.2 209.4 L3062.2 208.5 L3063.8 207.4 L3065.3 206.5 L3066.9 205.8 L3068.5 205.2 L3070.1 204.8 L3071.6 204.4 L3073.1 204.0 L3074.6 203.7 L3076.2 203.3 L3077.7 203.0 L3079.2 202.8 L3080.7 202.6 L3082.2 202.6 L3083.7 202.7 L3085.3 202.9 L3086.8 203.2 L3088.3 203.7 L3089.8 204.2 L3091.4 204.9 L3093.0 205.6 L3094.6 206.4 L3096.1 207.3 L3097.7 208.2 L3098.9 209.0 L3100.2 209.8 L3101.4 210.7 L3102.6 211.6 L3103.8 212.5 L3105.0 213.5 L3106.2 214.6 L3107.5 215.7 L3108.8 216.8 L3110.1 218.0 L3111.1 219.0 L3112.2 220.0 L3113.3 221.0 L3114.5 222.1 L3115.6 223.2 L3116.7 224.4 L3117.9 225.5 L3119.0 226.7 L3120.1 227.8 L3121.2 229.0 L3122.3 230.1 L3123.3 231.2 L3124.3 232.2 L3125.5 233.6 L3126.7 234.9 L3127.9 236.3 L3129.0 237.7 L3130.1 239.1 L3131.2 240.4 L3132.2 241.6 L3133.2 242.7 L3134.1 243.7 L3135.0 244.6 L3136.6 245.9 L3138.0 246.8 L3139.3 247.3 M3168.5 238.4 L3169.5 237.0 L3170.5 235.7 L3171.5 234.4 L3172.4 233.1 L3173.4 231.7 L3174.4 230.3 L3175.3 228.9 L3176.2 227.6 L3177.0 226.3 L3177.9 225.2 L3178.7 224.1 L3179.4 223.3 L3181.4 221.4 L3182.9 220.6 L3184.7 220.6 L3186.0 220.9 L3187.5 221.3 L3189.1 222.1 L3190.5 223.3 L3191.8 225.0 L3192.4 226.1 L3192.9 227.3 L3193.4 228.6 L3193.8 230.0 L3194.3 231.6 L3194.7 233.2 L3195.1 234.9 L3195.5 236.6 L3195.9 238.3" stroke="#1a1afb" stroke-width="5.5"/>
<path d="M2399.0 931.0 L2412.8 957.0 L2385.2 957.0 Z" fill="#1a1afb"/><path d="M2414.5 437.8 L2428.3 463.8 L2400.7 463.8 Z" fill="#1a1afb"/><path d="M2465.0 231.5 L2478.8 257.5 L2451.2 257.5 Z" fill="#1a1afb"/><path d="M2557.0 306.0 L2570.8 332.0 L2543.2 332.0 Z" fill="#1a1afb"/><path d="M2676.6 253.9 L2690.4 279.9 L2662.8 279.9 Z" fill="#1a1afb"/><path d="M2811.9 248.0 L2825.7 274.0 L2798.1 274.0 Z" fill="#1a1afb"/><path d="M2943.6 241.7 L2957.4 267.7 L2929.8 267.7 Z" fill="#1a1afb"/><path d="M3062.2 193.5 L3076.0 219.5 L3048.4 219.5 Z" fill="#1a1afb"/><path d="M3149.2 235.7 L3163.0 261.7 L3135.4 261.7 Z" fill="#1a1afb"/><path d="M3196.3 228.6 L3210.1 254.6 L3182.5 254.6 Z" fill="#1a1afb"/><path d="M3199.2 406.7 L3213.0 432.7 L3185.4 432.7 Z" fill="#1a1afb"/><path d="M3184.1 846.0 L3197.9 872.0 L3170.3 872.0 Z" fill="#1a1afb"/><path d="M3177.4 1000.8 L3191.2 1026.8 L3163.6 1026.8 Z" fill="#1a1afb"/>
<path d="M2398.0 1075.0 L2398.0 1074.4 L2398.0 1073.7 L2398.0 1073.0 L2398.0 1072.3 L2398.0 1071.6 L2398.0 1070.8 L2398.0 1070.0 L2398.0 1069.1 L2398.0 1068.2 L2398.0 1067.3 L2398.0 1066.4 L2398.0 1065.4 L2398.0 1064.4 L2398.0 1063.4 L2398.0 1062.4 L2398.0 1061.3 L2398.0 1060.2 L2398.0 1059.1 L2398.0 1058.0 L2398.0 1056.9 L2398.0 1055.7 L2398.0 1054.5 L2398.0 1053.3 L2398.0 1052.1 L2398.0 1050.8 L2398.1 1049.5 L2398.1 1048.3 L2398.1 1047.0 L2398.1 1045.7 L2398.1 1044.3 L2398.1 1043.0 L2398.1 1041.7 L2398.1 1040.3 L2398.1 1038.9 L2398.1 1037.5 L2398.1 1036.2 L2398.1 1034.8 L2398.1 1033.3 L2398.1 1031.9 L2398.1 1030.5 L2398.1 1029.1 L2398.1 1027.7 L2398.1 1026.2 L2398.1 1024.8 L2398.1 1023.3 L2398.1 1021.9 L2398.1 1020.4 L2398.1 1019.0 L2398.1 1017.6 L2398.1 1016.1 L2398.1 1014.7 L2398.1 1013.2 L2398.1 1011.8 L2398.1 1010.4 L2398.1 1008.9 L2398.2 1007.5 L2398.2 1006.1 L2398.2 1004.7 L2398.2 1003.3 L2398.2 1001.9 L2398.2 1000.5 L2398.2 999.1 L2398.2 997.7 L2398.2 996.4 L2398.2 995.0 L2398.2 993.7 L2398.2 992.4 L2398.2 991.1 L2398.3 989.8 L2398.3 988.5 L2398.3 987.3 L2398.3 986.0 L2398.3 984.8 L2398.3 983.6 L2398.3 982.4 L2398.3 981.3 L2398.3 980.1 L2398.4 979.0 L2398.4 977.9 L2398.4 976.8 L2398.4 975.8 L2398.4 974.7 L2398.4 973.7 L2398.5 972.8 L2398.5 971.8 L2398.5 970.9 L2398.5 970.0 L2398.5 968.2 L2398.6 966.4 L2398.6 964.9 L2398.7 963.4 L2398.7 962.1 L2398.8 960.8 L2398.8 959.6 L2398.9 958.6 L2398.9 957.6 L2399.0 956.7 L2399.1 955.8 L2399.1 955.0 L2399.2 954.2 L2399.2 953.5 L2399.3 952.8 L2399.4 952.2 L2399.4 951.5 L2399.5 950.9 L2399.6 950.2 L2399.6 949.6 L2399.7 948.9 L2399.8 948.2 L2399.9 947.4 L2399.9 946.7 L2400.0 945.8 L2400.1 945.0 L2400.1 944.0 L2400.2 943.0 L2400.3 941.9 L2400.3 940.7 L2400.4 939.4 L2400.5 938.0 L2400.6 936.5 L2400.6 934.8 L2400.7 933.1 L2400.8 931.2 L2400.8 929.1 L2400.9 926.9 L2400.9 924.5 L2401.0 922.0 L2401.0 921.2 L2401.0 920.4 L2401.1 919.6 L2401.1 918.8 L2401.1 918.0 L2401.1 917.2 L2401.1 916.4 L2401.1 915.6 L2401.1 914.7 L2401.2 913.9 L2401.2 913.0 L2401.2 912.2 L2401.2 911.3 L2401.2 910.4 L2401.2 909.5 L2401.2 908.7 L2401.3 907.8 L2401.3 906.9 L2401.3 906.0 L2401.3 905.0 L2401.3 904.1 L2401.3 903.2 L2401.3 902.3 L2401.3 901.3 L2401.4 900.4 L2401.4 899.4 L2401.4 898.5 L2401.4 897.5 L2401.4 896.5 L2401.4 895.5 L2401.4 894.6 L2401.4 893.6 L2401.5 892.6 L2401.5 891.6 L2401.5 890.5 L2401.5 889.5 L2401.5 888.5 L2401.5 887.5 L2401.5 886.4 L2401.5 885.4 L2401.5 884.3 L2401.6 883.3 L2401.6 882.2 L2401.6 881.1 L2401.6 880.1 L2401.6 879.0 L2401.6 877.9 L2401.6 876.8 L2401.6 875.7 L2401.6 874.6 L2401.6 873.5 L2401.7 872.4 L2401.7 871.2 L2401.7 870.1 L2401.7 869.0 L2401.7 867.8 L2401.7 866.7 L2401.7 865.5 L2401.7 864.4 L2401.7 863.2 L2401.8 862.0 L2401.8 860.8 L2401.8 859.7 L2401.8 858.5 L2401.8 857.3 L2401.8 856.1 L2401.8 854.9 L2401.8 853.6 L2401.8 852.4 L2401.9 851.2 L2401.9 850.0 L2401.9 848.7 L2401.9 847.5 L2401.9 846.2 L2401.9 845.0 L2401.9 843.7 L2401.9 842.4 L2402.0 841.2 L2402.0 839.9 L2402.0 838.6 L2402.0 837.3 L2402.0 836.0 L2402.0 834.7 L2402.0 833.4 L2402.1 832.1 L2402.1 830.8 L2402.1 829.5 L2402.1 828.2 L2402.1 826.8 L2402.1 825.5 L2402.2 824.1 L2402.2 822.8 L2402.2 821.4 L2402.2 820.1 L2402.2 818.7 L2402.2 817.3 L2402.3 816.0 L2402.3 814.6 L2402.3 813.2 L2402.3 811.8 L2402.3 810.4 L2402.3 809.0 L2402.4 807.6 L2402.4 806.2 L2402.4 804.8 L2402.4 803.4 L2402.4 801.9 L2402.5 800.5 L2402.5 799.1 L2402.5 797.6 L2402.5 796.2 L2402.6 794.7 L2402.6 793.3 L2402.6 791.8 L2402.6 790.3 L2402.7 788.9 L2402.7 787.4 L2402.7 785.9 L2402.7 784.4 L2402.8 782.9 L2402.8 781.4 L2402.8 779.9 L2402.8 778.4 L2402.9 776.9 L2402.9 775.4 L2402.9 773.9 L2402.9 772.4 L2403.0 770.8 L2403.0 769.3 L2403.0 767.8 L2403.1 766.2 L2403.1 764.7 L2403.1 763.1 L2403.2 761.6 L2403.2 760.0 L2403.2 759.0 L2403.2 758.0 L2403.3 757.0 L2403.3 756.0 L2403.3 755.0 L2403.3 754.0 L2403.4 753.0 L2403.4 751.9 L2403.4 750.9 L2403.4 749.8 L2403.4 748.8 L2403.5 747.7 L2403.5 746.7 L2403.5 745.6 L2403.5 744.5 L2403.6 743.4 L2403.6 742.3 L2403.6 741.2 L2403.6 740.1 L2403.7 739.0 L2403.7 737.9 L2403.7 736.7 L2403.8 735.6 L2403.8 734.5 L2403.8 733.3 L2403.8 732.2 L2403.9 731.0 L2403.9 729.8 L2403.9 728.7 L2403.9 727.5 L2404.0 726.3 L2404.0 725.1 L2404.0 723.9 L2404.1 722.7 L2404.1 721.5 L2404.1 720.3 L2404.2 719.1 L2404.2 717.9 L2404.2 716.7 L2404.2 715.4 L2404.3 714.2 L2404.3 713.0 L2404.3 711.7 L2404.4 710.5 L2404.4 709.2 L2404.4 708.0 L2404.5 706.7 L2404.5 705.5 L2404.5 704.2 L2404.6 702.9 L2404.6 701.7 L2404.6 700.4 L2404.7 699.1 L2404.7 697.8 L2404.7 696.5 L2404.8 695.2 L2404.8 693.9 L2404.8 692.6 L2404.9 691.3 L2404.9 690.0 L2404.9 688.7 L2405.0 687.4 L2405.0 686.1 L2405.0 684.8 L2405.1 683.5 L2405.1 682.1 L2405.1 680.8 L2405.2 679.5 L2405.2 678.2 L2405.2 676.8 L2405.3 675.5 L2405.3 674.1 L2405.3 672.8 L2405.4 671.5 L2405.4 670.1 L2405.4 668.8 L2405.5 667.4 L2405.5 666.1 L2405.5 664.7 L2405.6 663.4 L2405.6 662.0 L2405.7 660.7 L2405.7 659.3 L2405.7 658.0 L2405.8 656.6 L2405.8 655.2 L2405.8 653.9 L2405.9 652.5 L2405.9 651.2 L2405.9 649.8 L2406.0 648.4 L2406.0 647.1 L2406.0 645.7 L2406.1 644.3 L2406.1 643.0 L2406.2 641.6 L2406.2 640.3 L2406.2 638.9 L2406.3 637.5 L2406.3 636.2 L2406.3 634.8 L2406.4 633.4 L2406.4 632.1 L2406.5 630.7 L2406.5 629.3 L2406.5 628.0 L2406.6 626.6 L2406.6 625.2 L2406.6 623.9 L2406.7 622.5 L2406.7 621.2 L2406.7 619.8 L2406.8 618.5 L2406.8 617.1 L2406.9 615.7 L2406.9 614.4 L2406.9 613.0 L2407.0 611.7 L2407.0 610.3 L2407.0 609.0 L2407.1 607.7 L2407.1 606.3 L2407.2 605.0 L2407.2 603.6 L2407.2 602.3 L2407.3 601.0 L2407.3 599.6 L2407.3 598.3 L2407.4 597.0 L2407.4 595.6 L2407.4 594.3 L2407.5 593.0 L2407.5 591.7 L2407.5 590.4 L2407.6 589.1 L2407.6 587.8 L2407.7 586.4 L2407.7 585.1 L2407.7 583.8 L2407.8 582.6 L2407.8 581.3 L2407.8 580.0 L2407.9 578.7 L2407.9 577.4 L2407.9 576.1 L2408.0 574.9 L2408.0 573.6 L2408.0 572.3 L2408.1 571.1 L2408.1 569.8 L2408.1 568.5 L2408.2 567.3 L2408.2 566.1 L2408.2 564.8 L2408.3 563.6 L2408.3 562.3 L2408.3 561.1 L2408.4 559.9 L2408.4 558.7 L2408.4 557.5 L2408.5 556.3 L2408.5 555.1 L2408.5 553.9 L2408.6 552.7 L2408.6 551.5 L2408.6 550.3 L2408.7 549.1 L2408.7 548.0 L2408.7 546.8 L2408.8 545.6 L2408.8 544.5 L2408.8 543.3 L2408.9 542.2 L2408.9 541.1 L2408.9 539.9 L2409.0 538.8 L2409.0 537.7 L2409.0 536.6 L2409.0 535.5 L2409.1 534.4 L2409.1 533.3 L2409.1 532.2 L2409.2 531.2 L2409.2 530.1 L2409.2 529.0 L2409.3 528.0 L2409.3 526.9 L2409.3 525.9 L2409.3 524.8 L2409.4 523.8 L2409.4 522.8 L2409.4 521.8 L2409.4 520.8 L2409.5 519.8 L2409.5 518.8 L2409.5 517.8 L2409.6 516.9 L2409.6 515.9 L2409.6 514.9 L2409.6 514.0 L2409.7 513.0 L2409.7 512.1 L2409.7 511.2 L2409.7 510.3 L2409.8 509.4 L2409.8 508.5 L2409.8 507.6 L2409.8 506.7 L2409.8 505.8 L2409.9 505.0 L2409.9 504.1 L2409.9 503.3 L2409.9 502.4 L2410.0 501.6 L2410.0 500.8 L2410.0 500.0 L2410.1 497.6 L2410.1 495.3 L2410.2 493.0 L2410.2 490.8 L2410.3 488.7 L2410.3 486.7 L2410.4 484.7 L2410.4 482.8 L2410.5 481.0 L2410.5 479.2 L2410.5 477.4 L2410.6 475.8 L2410.6 474.1 L2410.7 472.6 L2410.7 471.1 L2410.7 469.6 L2410.7 468.2 L2410.8 466.8 L2410.8 465.5 L2410.8 464.2 L2410.8 463.0 L2410.9 461.8 L2410.9 460.6 L2410.9 459.5 L2410.9 458.4 L2410.9 457.3 L2411.0 456.3 L2411.0 455.3 L2411.0 454.3 L2411.0 453.4 L2411.0 452.4 L2411.0 451.5 L2411.1 450.6 L2411.1 449.8 L2411.1 448.9 L2411.1 448.1 L2411.1 447.3 L2411.1 446.4 L2411.2 445.6 L2411.2 444.8 L2411.2 444.0 L2411.2 443.3 L2411.2 442.5 L2411.2 441.7 L2411.3 440.9 L2411.3 440.1 L2411.3 439.3 L2411.3 438.5 L2411.3 437.7 L2411.4 436.9 L2411.4 436.0 L2411.4 435.2 L2411.4 434.3 L2411.5 433.4 L2411.5 432.5 L2411.5 431.6 L2411.5 430.7 L2411.6 429.7 L2411.6 428.7 L2411.7 427.7 L2411.7 426.6 L2411.7 425.5 L2411.8 424.4 L2411.8 423.2 L2411.9 422.0 L2411.9 420.8 L2412.0 419.5 L2412.0 418.2 L2412.1 416.9 L2412.1 415.5 L2412.2 414.0 L2412.2 413.0 L2412.3 411.9 L2412.3 410.9 L2412.4 409.8 L2412.4 408.7 L2412.5 407.6 L2412.5 406.5 L2412.6 405.4 L2412.6 404.3 L2412.7 403.2 L2412.7 402.0 L2412.8 400.8 L2412.8 399.7 L2412.9 398.5 L2412.9 397.3 L2413.0 396.1 L2413.1 394.9 L2413.1 393.7 L2413.2 392.4 L2413.2 391.2 L2413.3 390.0 L2413.3 388.7 L2413.4 387.5 L2413.5 386.2 L2413.5 384.9 L2413.6 383.6 L2413.6 382.3 L2413.7 381.1 L2413.8 379.8 L2413.8 378.5 L2413.9 377.2 L2414.0 375.8 L2414.0 374.5 L2414.1 373.2 L2414.2 371.9 L2414.2 370.6 L2414.3 369.2 L2414.4 367.9 L2414.4 366.6 L2414.5 365.2 L2414.6 363.9 L2414.6 362.5 L2414.7 361.2 L2414.8 359.9 L2414.8 358.5 L2414.9 357.2 L2415.0 355.8 L2415.1 354.5 L2415.1 353.1 L2415.2 351.8 L2415.3 350.5 L2415.3 349.1 L2415.4 347.8 L2415.5 346.5 L2415.6 345.1 L2415.6 343.8 L2415.7 342.5 L2415.8 341.1 L2415.8 339.8 L2415.9 338.5 L2416.0 337.2 L2416.1 335.9 L2416.1 334.6 L2416.2 333.3 L2416.3 332.0 L2416.4 330.7 L2416.4 329.4 L2416.5 328.2 L2416.6 326.9 L2416.6 325.6 L2416.7 324.4 L2416.8 323.1 L2416.9 321.9 L2416.9 320.7 L2417.0 319.4 L2417.1 318.2 L2417.2 317.0 L2417.2 315.8 L2417.3 314.7 L2417.4 313.5 L2417.5 312.3 L2417.5 311.2 L2417.6 310.0 L2417.7 308.9 L2417.7 307.8 L2417.8 306.7 L2417.9 305.6 L2418.0 304.5 L2418.0 303.4 L2418.1 302.4 L2418.2 301.3 L2418.2 300.3 L2418.3 299.3 L2418.4 298.3 L2418.5 297.3 L2418.5 296.3 L2418.6 295.4 L2418.7 294.5 L2418.7 293.5 L2418.8 292.6 L2418.9 291.7 L2418.9 290.9 L2419.0 290.0 L2419.2 288.0 L2419.3 286.0 L2419.5 284.1 L2419.6 282.2 L2419.8 280.4 L2420.0 278.6 L2420.1 277.0 L2420.3 275.3 L2420.4 273.7 L2420.6 272.2 L2420.7 270.7 L2420.9 269.3 L2421.0 267.9 L2421.2 266.6 L2421.3 265.3 L2421.4 264.0 L2421.6 262.8 L2421.7 261.6 L2421.9 260.4 L2422.1 259.3 L2422.2 258.2 L2422.4 257.1 L2422.5 256.1 L2422.7 255.1 L2422.8 254.1 L2423.0 253.1 L2423.2 252.2 L2423.3 251.3 L2423.5 250.4 L2423.7 249.5 L2423.8 248.6 L2424.0 247.7 L2424.2 246.9 L2424.4 246.0 L2424.6 245.2 L2424.8 244.3 L2425.0 243.5 L2425.2 242.7 L2425.4 241.8 L2425.6 241.0 L2425.8 240.1 L2426.0 239.3 L2426.5 237.4 L2427.0 235.7 L2427.6 233.9 L2428.1 232.2 L2428.7 230.7 L2429.3 229.1 L2429.9 227.7 L2430.5 226.3 L2431.2 225.1 L2431.8 223.9 L2432.4 222.9 L2433.1 221.9 L2433.7 221.1 L2434.4 220.3 L2435.0 219.7 L2435.6 219.2 L2436.3 218.9 L2436.9 218.7 L2437.5 218.6 L2438.1 218.7 L2438.7 219.0 L2439.3 219.4 L2439.9 220.0 L2440.5 220.7 L2441.1 221.6 L2441.6 222.6 L2442.2 223.7 L2442.8 224.9 L2443.4 226.1 L2444.0 227.5 L2444.6 228.9 L2445.2 230.3 L2445.8 231.8 L2446.4 233.3 L2447.1 234.8 L2447.7 236.3 L2448.3 237.8 L2449.0 239.3 L2449.4 240.2 L2449.9 241.2 L2450.3 242.2 L2450.7 243.2 L2451.2 244.3 L2451.6 245.3 L2452.1 246.4 L2452.5 247.5 L2453.0 248.6 L2453.4 249.8 L2453.9 250.9 L2454.4 252.1 L2454.8 253.3 L2455.3 254.5 L2455.8 255.7 L2456.2 256.9 L2456.7 258.1 L2457.2 259.3 L2457.6 260.6 L2458.1 261.8 L2458.6 263.0 L2459.1 264.2 L2459.5 265.5 L2460.0 266.7 L2460.5 267.9 L2460.9 269.1 L2461.4 270.3 L2461.9 271.5 L2462.3 272.6 L2462.8 273.8 L2463.3 275.0 L2463.7 276.1 L2464.2 277.3 L2464.6 278.5 L2465.1 279.6 L2465.6 280.8 L2466.0 282.0 L2466.5 283.2 L2466.9 284.4 L2467.4 285.6 L2467.9 286.7 L2468.3 287.9 L2468.8 289.1 L2469.2 290.3 L2469.7 291.5 L2470.2 292.7 L2470.6 293.8 L2471.1 295.0 L2471.5 296.2 L2472.0 297.3 L2472.5 298.5 L2472.9 299.6 L2473.4 300.7 L2473.8 301.8 L2474.3 302.9 L2474.8 304.0 L2475.2 305.1 L2475.7 306.2 L2476.1 307.3 L2476.6 308.3 L2477.1 309.5 L2477.7 310.8 L2478.2 312.0 L2478.7 313.2 L2479.3 314.3 L2479.8 315.5 L2480.3 316.7 L2480.8 317.8 L2481.3 318.9 L2481.9 320.1 L2482.4 321.2 L2482.9 322.3 L2483.4 323.4 L2484.0 324.4 L2484.5 325.5 L2485.0 326.6 L2485.6 327.6 L2486.1 328.7 L2486.7 329.7 L2487.3 330.8 L2487.8 331.8 L2488.4 332.8 L2489.0 333.9 L2489.7 334.9 L2490.3 335.9 L2491.0 337.0 L2491.7 338.1 L2492.4 339.2 L2493.1 340.4 L2493.9 341.5 L2494.7 342.7 L2495.5 343.9 L2496.3 345.1 L2497.1 346.3 L2497.9 347.4 L2498.7 348.6 L2499.5 349.7 L2500.3 350.8 L2501.1 351.8 L2501.9 352.8 L2502.7 353.8 L2503.5 354.7 L2504.3 355.5 L2505.1 356.3 L2505.8 357.0 L2506.6 357.6 L2507.3 358.1 L2508.0 358.6 L2508.7 358.9 L2509.9 359.3 L2511.1 359.3 L2512.3 359.1 L2513.4 358.6 L2514.6 357.9 L2515.6 357.1 L2516.7 356.1 L2517.7 355.0 L2518.7 353.9 L2519.7 352.8 L2520.7 351.7 L2521.6 350.6 L2522.5 349.7 L2523.3 348.9 L2524.0 348.1 L2524.7 347.3 L2525.2 346.6 L2525.7 345.9 L2526.3 345.1 L2526.8 344.2 L2527.4 343.3 L2528.0 342.2 L2528.7 340.9 L2529.6 339.5 L2530.6 337.8 L2531.7 335.9 L2532.1 335.2 L2532.6 334.4 L2533.1 333.5 L2533.6 332.7 L2534.2 331.8 L2534.7 330.8 L2535.3 329.8 L2535.9 328.8 L2536.5 327.8 L2537.1 326.7 L2537.8 325.6 L2538.4 324.5 L2539.1 323.4 L2539.7 322.2 L2540.4 321.1 L2541.1 319.9 L2541.8 318.7 L2542.5 317.5 L2543.2 316.3 L2543.9 315.1 L2544.6 313.9 L2545.3 312.7 L2545.9 311.5 L2546.6 310.3 L2547.3 309.2 L2548.0 308.0 L2548.7 306.9 L2549.3 305.7 L2550.0 304.6 L2550.6 303.6 L2551.3 302.5 L2551.9 301.5 L2552.5 300.5 L2553.1 299.5 L2553.6 298.6 L2554.2 297.7 L2554.7 296.8 L2555.6 295.4 L2556.4 294.1 L2557.2 292.8 L2558.0 291.6 L2558.8 290.4 L2559.5 289.2 L2560.2 288.1 L2560.9 287.0 L2561.6 285.9 L2562.3 284.9 L2563.0 283.9 L2563.7 282.9 L2564.3 282.0 L2565.0 281.0 L2565.6 280.1 L2566.2 279.2 L2566.9 278.3 L2567.5 277.5 L2568.1 276.6 L2568.7 275.7 L2569.4 274.9 L2570.0 273.3 L2570.9 272.2 L2571.7 272.5 L2572.5 270.6 L2573.3 269.0 L2574.1 269.3 L2574.9 268.5 L2575.6 266.4 L2576.4 264.8 L2577.1 264.0 L2577.9 262.9 L2578.6 262.5 L2579.4 261.2 L2580.2 260.6 L2581.0 259.9 L2581.8 259.7 L2582.6 259.6 L2583.6 258.4 L2584.7 256.8 L2585.8 255.9 L2586.9 255.3 L2587.9 254.2 L2589.0 253.4 L2590.2 252.1 L2591.3 251.9 L2592.4 252.6 L2593.5 250.4 L2594.6 250.7 L2595.7 247.5 L2596.8 244.6 L2598.1 246.6 L2599.4 249.0 L2600.7 248.8 L2602.0 249.2 L2603.2 249.3 L2604.5 250.5 L2605.8 250.5 L2607.1 250.7 L2608.4 242.2 L2609.7 239.8 L2611.0 248.5 L2612.2 251.8 L2613.4 251.3 L2614.6 251.8 L2615.8 250.9 L2617.0 252.1 L2618.2 253.5 L2619.3 253.7 L2620.5 254.2 L2621.7 252.9 L2622.9 246.5 L2624.1 246.8 L2625.3 252.8 L2626.4 255.8 L2627.5 256.6 L2628.5 257.6 L2629.6 257.6 L2630.7 258.0 L2631.8 258.7 L2632.8 258.7 L2633.9 259.4 L2635.0 259.0 L2636.1 258.0 L2637.2 252.0 L2638.3 254.8 L2639.5 260.7 L2640.5 261.0 L2641.6 257.9 L2642.6 258.2 L2643.7 263.2 L2644.8 266.1 L2645.9 265.7 L2647.1 266.4 L2648.2 268.0 L2649.3 268.9 L2650.4 269.2 L2651.4 269.7 L2652.5 271.1 L2653.5 270.7 L2654.5 270.2 L2655.5 267.2 L2656.6 267.1 L2657.7 271.6 L2658.7 276.1 L2659.6 276.0 L2660.6 276.3 L2661.5 277.1 L2662.4 279.2 L2663.4 279.4 L2664.4 279.3 L2665.5 279.5 L2666.6 281.2 L2667.9 282.2 L2668.9 282.3 L2669.9 282.5 L2670.9 282.1 L2672.0 280.7 L2673.1 280.9 L2674.2 283.6 L2675.3 285.5 L2676.5 286.2 L2677.7 287.3 L2678.9 286.9 L2680.1 288.7 L2681.3 289.1 L2682.5 289.1 L2683.8 289.0 L2685.0 290.9 L2686.2 290.0 L2687.4 291.4 L2688.6 290.6 L2689.8 290.9 L2691.0 292.3 L2692.2 291.7 L2693.4 293.3 L2694.6 292.6 L2695.8 292.3 L2697.0 292.6 L2698.2 293.1 L2699.5 293.8 L2700.7 294.5 L2702.0 293.2 L2703.3 293.8 L2704.6 293.5 L2705.9 295.0 L2707.3 293.6 L2708.7 293.5 L2709.8 293.5 L2710.9 294.2 L2712.0 295.1 L2713.2 295.0 L2714.3 294.7 L2715.5 295.2 L2716.7 295.0 L2717.9 293.9 L2719.1 293.5 L2720.3 294.8 L2721.5 294.4 L2722.8 293.0 L2724.0 294.0 L2725.3 293.4 L2726.5 293.3 L2727.8 293.1 L2729.0 292.7 L2730.3 292.2 L2731.6 292.6 L2732.8 292.6 L2734.1 293.6 L2735.4 291.9 L2736.6 293.3 L2737.8 291.8 L2739.0 291.9 L2740.3 292.6 L2741.6 292.5 L2742.9 291.6 L2744.2 290.8 L2745.5 291.4 L2746.9 291.0 L2748.2 291.8 L2749.5 290.4 L2750.8 290.5 L2752.1 291.3 L2753.4 289.5 L2754.7 290.0 L2756.0 290.5 L2757.2 290.3 L2758.4 288.8 L2759.6 288.6 L2760.8 288.4 L2761.9 289.8 L2763.0 288.4 L2764.0 289.1 L2765.0 289.2 L2766.6 287.9 L2768.0 287.5 L2769.3 288.5 L2770.4 287.7 L2771.5 286.8 L2772.5 287.4 L2773.5 286.4 L2774.5 286.1 L2775.6 285.3 L2776.6 286.3 L2777.7 286.2 L2779.0 285.3 L2780.3 285.3 L2781.8 283.1 L2782.7 283.2 L2783.7 283.2 L2784.6 283.7 L2785.6 283.3 L2786.6 281.9 L2787.7 281.2 L2788.7 281.1 L2789.8 280.7 L2790.9 281.0 L2792.0 279.2 L2793.1 279.8 L2794.2 279.2 L2795.4 278.8 L2796.6 278.2 L2797.7 277.4 L2798.9 276.4 L2800.1 275.8 L2801.4 275.3 L2802.6 275.5 L2803.9 273.7 L2805.1 273.4 L2806.4 273.8 L2807.7 272.3 L2809.0 271.4 L2810.0 270.9 L2811.0 271.4 L2812.0 270.6 L2813.1 271.3 L2814.1 270.6 L2815.2 270.3 L2816.3 268.5 L2817.4 267.7 L2818.6 267.2 L2819.7 267.4 L2820.8 267.3 L2822.0 266.3 L2823.1 265.4 L2824.3 265.2 L2825.5 265.0 L2826.6 264.6 L2827.8 264.2 L2829.0 263.9 L2830.1 263.0 L2831.3 261.5 L2832.4 262.3 L2833.6 260.8 L2834.7 260.8 L2835.9 260.0 L2837.0 260.2 L2838.1 258.8 L2839.2 258.4 L2840.3 258.0 L2841.4 257.4 L2842.4 258.3 L2843.5 257.3 L2844.5 256.5 L2845.8 256.1 L2847.1 256.8 L2848.4 255.5 L2849.6 254.5 L2850.9 255.2 L2852.1 254.5 L2853.4 254.7 L2854.6 252.7 L2855.9 253.0 L2857.1 253.3 L2858.3 253.0 L2859.5 252.8 L2860.7 250.9 L2861.8 251.1 L2863.0 250.4 L2864.1 250.3 L2865.3 251.4 L2866.4 250.4 L2867.5 250.7 L2868.6 249.5 L2869.7 250.1 L2870.7 249.1 L2871.8 248.5 L2872.8 249.2 L2873.8 249.2 L2875.2 247.3 L2876.6 247.8 L2877.9 247.5 L2879.2 246.4 L2880.4 246.4 L2881.6 245.6 L2882.8 245.4 L2883.9 245.2 L2885.1 245.6 L2886.2 245.4 L2887.4 244.4 L2888.5 243.8 L2889.7 244.2 L2890.9 244.7 L2892.1 243.7 L2893.4 243.9 L2894.7 243.7 L2895.8 244.7 L2896.9 244.3 L2898.1 243.5 L2899.2 243.6 L2900.4 244.2 L2901.6 244.6 L2902.8 244.9 L2904.0 244.0 L2905.2 244.3 L2906.5 245.4 L2907.7 245.1 L2908.9 245.1 L2910.1 245.4 L2911.4 246.8 L2912.6 245.9 L2913.8 246.7 L2915.0 246.6 L2916.2 247.1 L2917.4 248.2 L2918.6 248.9 L2919.8 248.2 L2920.9 248.3 L2922.0 249.7 L2923.1 249.3 L2924.2 249.5 L2925.2 251.7 L2926.3 251.5 L2927.4 252.9 L2928.4 252.8 L2929.5 254.4 L2930.6 254.3 L2931.6 254.5 L2932.7 255.0 L2933.7 256.7 L2934.8 257.5 L2935.9 258.7 L2937.0 257.9 L2938.0 259.5 L2939.1 259.7 L2940.2 260.6 L2941.3 260.5 L2942.5 261.3 L2943.6 262.2 L2944.7 263.4 L2945.9 262.4 L2947.1 263.5 L2948.3 264.5 L2949.5 265.2 L2950.7 264.2 L2952.0 264.5 L2953.2 266.3 L2954.4 266.7 L2955.7 266.1 L2956.9 265.7 L2958.2 267.6 L2959.4 266.9 L2960.6 268.1 L2961.8 267.9 L2963.0 268.5 L2964.2 267.5 L2965.4 268.9 L2966.6 268.1 L2967.7 268.7 L2968.8 269.7 L2969.9 269.9 L2971.3 269.0 L2972.6 269.3 L2973.9 269.9 L2975.2 270.3 L2976.4 270.3 L2977.7 270.0 L2978.9 270.4 L2980.1 271.4 L2981.3 271.8 L2982.5 270.4 L2983.6 271.4 L2984.8 271.9 L2986.0 270.6 L2987.2 272.1 L2988.4 270.8 L2989.6 271.6 L2990.8 271.5 L2992.0 271.6 L2993.3 270.9 L2994.5 271.0 L2995.7 271.2 L2996.9 270.7 L2998.2 271.0 L2999.4 270.4 L3000.6 270.3 L3001.9 270.1 L3003.1 269.8 L3004.3 269.5 L3005.6 269.2 L3006.8 268.9 L3008.0 268.5 L3009.2 268.1 L3010.5 267.7 L3011.7 267.2 L3012.7 266.8 L3013.8 266.3 L3014.9 269.7 L3015.9 273.1 L3017.0 269.0 L3018.1 264.6 L3019.2 263.6 L3020.3 263.0 L3021.3 262.4 L3022.4 261.7 L3023.5 261.1 L3024.5 260.4 L3025.6 259.7 L3026.6 259.0 L3027.7 260.6 L3028.7 264.1 L3029.7 264.3 L3030.7 259.5 L3031.6 255.4 L3032.6 254.7 L3033.6 253.9 L3034.6 253.1 L3035.5 252.2 L3036.5 251.3 L3037.5 250.4 L3038.4 249.4 L3039.3 248.5 L3040.3 251.0 L3041.2 254.1 L3042.1 253.9 L3042.9 248.9 L3043.8 244.1 L3044.7 242.7 L3045.5 241.8 L3046.3 241.0 L3047.1 240.2 L3047.9 239.4 L3048.7 238.7 L3049.4 238.0 L3050.6 237.0 L3051.7 236.0 L3052.7 235.1 L3053.6 234.4 L3054.5 233.7 L3055.4 233.0 L3056.3 232.4 L3057.2 231.9 L3058.2 231.4 L3059.2 230.9 L3060.4 230.3 L3061.5 228.7 L3062.6 230.3 L3063.8 229.6 L3065.1 228.7 L3066.4 230.1 L3067.7 230.1 L3069.0 229.0 L3070.3 228.1 L3071.6 228.9 L3072.9 227.7 L3074.1 227.7 L3075.3 228.5 L3076.4 227.4 L3077.8 228.2 L3079.1 228.2 L3080.4 233.3 L3081.7 243.9 L3082.9 233.0 L3084.1 227.7 L3085.3 227.7 L3086.5 226.8 L3087.6 225.5 L3088.8 227.0 L3089.9 227.0 L3091.0 229.2 L3092.0 227.4 L3093.0 230.3 L3094.0 234.1 L3095.0 241.9 L3096.1 248.1 L3097.2 238.8 L3098.3 234.7 L3099.5 234.0 L3100.5 235.9 L3101.5 236.3 L3102.6 234.6 L3103.7 237.0 L3104.9 240.5 L3106.0 244.8 L3107.2 246.1 L3108.3 241.6 L3109.5 237.8 L3110.6 240.6 L3111.7 240.4 L3112.7 249.1 L3113.7 253.9 L3114.9 248.1 L3116.0 243.7 L3117.1 242.4 L3118.2 243.3 L3119.2 244.8 L3120.2 245.0 L3121.2 244.9 L3122.2 247.5 L3123.3 259.2 L3124.3 273.5 L3125.5 260.5 L3126.6 253.6 L3127.8 262.4 L3129.0 267.0 L3130.1 254.8 L3131.3 251.2 L3132.5 251.8 L3133.7 262.4 L3135.0 279.1 L3136.2 264.6 L3137.4 252.7 L3138.6 253.8 L3139.8 252.0 L3141.1 266.2 L3142.3 270.4 L3143.6 258.3 L3144.9 264.9 L3146.1 273.0 L3147.4 262.5 L3148.5 259.5 L3149.6 268.4 L3150.6 267.3 L3151.7 256.5 L3152.7 258.2 L3153.8 268.2 L3154.9 259.8 L3156.1 252.1 L3157.3 248.7 L3158.6 250.1 L3160.0 263.1 L3160.9 266.1 L3161.8 257.2 L3162.8 246.4 L3163.9 244.2 L3165.0 243.6 L3166.1 249.1 L3167.3 266.5 L3168.4 267.1 L3169.6 249.7 L3170.7 242.4 L3171.9 239.4 L3173.0 238.9 L3174.1 239.5 L3175.1 236.9 L3176.1 236.2 L3177.1 236.7 L3177.9 235.4 L3178.7 235.7 L3179.4 234.9 L3181.7 234.6 L3182.9 234.0 L3183.6 232.7 L3184.7 234.4 L3185.6 234.3 L3186.5 233.9 L3187.4 237.0 L3188.3 235.8 L3189.2 236.6 L3190.1 237.5 L3191.0 240.4 L3191.6 242.1 L3192.1 242.9 L3192.7 242.9 L3193.2 243.8 L3193.8 244.3 L3194.3 247.5 L3194.8 248.5 L3195.3 249.2 L3195.8 251.3 L3196.3 251.8 L3196.8 254.6 L3197.4 255.2 L3197.9 255.1 L3198.5 257.1 L3199.0 258.4 L3199.5 259.5 L3199.9 260.5 L3200.2 261.3 L3200.5 262.0" stroke="#ff1aff" stroke-width="2.6"/><path d="M3200.5 262.0 L3200.7 266.1 L3201.0 271.3 L3201.3 281.4 L3201.3 300.0 L3201.3 305.5 L3201.2 311.7 L3201.1 318.5 L3201.1 325.9 L3201.0 333.8 L3200.9 342.1 L3200.8 350.8 L3200.7 359.8 L3200.6 368.9 L3200.5 378.2 L3200.3 387.5 L3200.2 396.8 L3200.1 406.1 L3199.9 415.1 L3199.8 424.0 L3199.7 432.5 L3199.5 440.6 L3199.4 448.3 L3199.2 455.4 L3199.0 464.9 L3198.7 473.3 L3198.5 481.1 L3198.2 488.2 L3198.0 495.0 L3197.7 501.6 L3197.4 508.3 L3197.1 515.1 L3196.8 522.4 L3196.5 530.4 L3196.2 539.2 L3195.8 549.0 L3195.5 560.0 L3195.3 566.3 L3195.1 572.8 L3194.9 579.7 L3194.7 586.9 L3194.5 594.3 L3194.3 601.9 L3194.1 609.8 L3193.8 617.8 L3193.6 626.0 L3193.4 634.4 L3193.2 642.8 L3192.9 651.3 L3192.7 659.9 L3192.5 668.6 L3192.2 677.3 L3192.0 685.9 L3191.8 694.6 L3191.5 703.2 L3191.3 711.7 L3191.1 720.1 L3190.9 728.4 L3190.6 736.6 L3190.4 744.6 L3190.2 752.4 L3190.0 760.0 L3189.8 768.9 L3189.5 777.9 L3189.3 787.0 L3189.0 796.0 L3188.8 805.1 L3188.5 814.1 L3188.3 823.1 L3188.0 832.0 L3187.8 840.9 L3187.5 849.7 L3187.3 858.3 L3187.1 866.8 L3186.9 875.2 L3186.6 883.4 L3186.4 891.4 L3186.2 899.2 L3186.0 906.7 L3185.8 914.1 L3185.6 921.1 L3185.5 927.9 L3185.3 934.4 L3185.0 946.0 L3184.7 956.6 L3184.5 966.4 L3184.3 975.5 L3184.1 983.9 L3183.9 991.7 L3183.7 999.1 L3183.6 1006.1 L3183.5 1012.8 L3183.4 1019.3 L3183.3 1025.7 L3183.3 1036.9 L3183.4 1047.1 L3183.5 1056.1 L3183.7 1063.8 L3183.9 1070.1 L3184.0 1075.0" stroke="#ff1aff" stroke-width="3.4"/><path d="M2398.0 1075.0 C2398.1 1057.5 2398.0 995.5 2398.5 970.0 C2399.0 944.5 2400.2 957.0 2401.0 922.0 C2401.8 887.0 2401.7 830.3 2403.2 760.0 C2404.7 689.7 2408.5 557.7 2410.0 500.0 C2411.5 442.3 2410.7 449.0 2412.2 414.0 C2413.7 379.0 2416.7 319.1 2419.0 290.0 C2421.3 260.9 2424.8 247.8 2426.0 239.3" stroke="#ff1aff" stroke-width="2.2"/>
<path d="M2596.8 251.4 V243.9M2609.3 251.9 V238.4M2623.5 256.0 V244.5M2637.7 262.8 V250.3M2642.2 265.4 V256.9M2656.3 275.1 V264.6M3016.0 263.7 V273.2M3029.3 255.6 V266.1M3041.7 244.1 V255.6M3081.7 226.0 V243.5M3095.9 229.8 V248.3M3106.6 235.8 V249.3M3113.7 239.5 V255.0M3124.3 246.7 V272.2M3128.5 248.4 V269.9M3135.0 250.5 V278.0M3142.0 251.7 V273.2M3146.0 251.6 V275.1M3150.0 250.9 V272.4M3154.0 249.6 V269.1M3160.7 246.1 V267.6M3167.9 241.5 V275.0" stroke="#ff1aff" stroke-width="3.4"/>
<path d="M2398.0 1079.0 L2411.8 1051.5 L2384.2 1051.5 Z" fill="#ff1aff"/><path d="M2398.0 936.5 L2411.8 909.0 L2384.2 909.0 Z" fill="#ff1aff"/><path d="M2412.2 428.0 L2426.0 400.5 L2398.4 400.5 Z" fill="#ff1aff"/><path d="M2463.5 294.8 L2477.3 267.3 L2449.7 267.3 Z" fill="#ff1aff"/><path d="M2553.0 314.0 L2566.8 286.5 L2539.2 286.5 Z" fill="#ff1aff"/><path d="M2674.3 299.3 L2688.1 271.8 L2660.5 271.8 Z" fill="#ff1aff"/><path d="M2809.0 286.2 L2822.8 258.7 L2795.2 258.7 Z" fill="#ff1aff"/><path d="M2943.6 275.0 L2957.4 247.5 L2929.8 247.5 Z" fill="#ff1aff"/><path d="M3060.4 249.0 L3074.2 221.5 L3046.6 221.5 Z" fill="#ff1aff"/><path d="M3147.4 269.5 L3161.2 242.0 L3133.6 242.0 Z" fill="#ff1aff"/><path d="M3196.3 268.5 L3210.1 241.0 L3182.5 241.0 Z" fill="#ff1aff"/><path d="M3199.2 469.4 L3213.0 441.9 L3185.4 441.9 Z" fill="#ff1aff"/><path d="M3185.3 948.4 L3199.1 920.9 L3171.5 920.9 Z" fill="#ff1aff"/><path d="M3183.3 1039.7 L3197.1 1012.2 L3169.5 1012.2 Z" fill="#ff1aff"/>
</g>
<g stroke="#1a1a1a" fill="none">
<path d="M2394.7 1075.5 H3552.6" stroke-width="5.4"/>
<path d="M2397.4 157.0 h18" stroke-width="4.5"/>
<path d="M2397.4 310.0 h18" stroke-width="4.5"/>
<path d="M2397.4 463.0 h18" stroke-width="4.5"/>
<path d="M2397.4 616.0 h18" stroke-width="4.5"/>
<path d="M2397.4 769.0 h18" stroke-width="4.5"/>
<path d="M2397.4 922.0 h18" stroke-width="4.5"/>
<path d="M2397.4 233.5 h10" stroke-width="4"/>
<path d="M2397.4 386.5 h10" stroke-width="4"/>
<path d="M2397.4 539.5 h10" stroke-width="4"/>
<path d="M2397.4 692.5 h10" stroke-width="4"/>
<path d="M2397.4 845.5 h10" stroke-width="4"/>
<path d="M2397.4 998.5 h10" stroke-width="4"/>
<path d="M2782.0 1075.5 v-20" stroke-width="5"/>
<path d="M3166.0 1075.5 v-20" stroke-width="5"/>
<path d="M3550.0 1075.5 v-20" stroke-width="5"/>
<path d="M2590.0 1075.5 v-11" stroke-width="4.5"/>
<path d="M2974.0 1075.5 v-11" stroke-width="4.5"/>
<path d="M3358.0 1075.5 v-11" stroke-width="4.5"/>
</g>
<g font-family="Liberation Serif, Times New Roman, serif" font-size="66.7" fill="#000">
<text x="2374" y="176.5" text-anchor="end">60</text>
<text x="2374" y="329.5" text-anchor="end">50</text>
<text x="2374" y="482.5" text-anchor="end">40</text>
<text x="2374" y="635.5" text-anchor="end">30</text>
<text x="2374" y="788.5" text-anchor="end">20</text>
<text x="2374" y="941.5" text-anchor="end">10</text>
<text x="2374" y="1094.5" text-anchor="end">0</text>
<text x="2781.0" y="1137" text-anchor="middle">0.02</text>
<text x="3171.7" y="1137" text-anchor="middle">0.04</text>
<text x="3561.0" y="1137" text-anchor="middle">0.06</text>
<text x="2975" y="1232.6" text-anchor="middle">Strain</text>
<text x="2971" y="1337" text-anchor="middle">(b) Stress-strain curves by different methods</text>
<text transform="translate(2196.5,577.5) rotate(-90)" text-anchor="middle">Stress/(MPa)</text>
<text x="2584.6" y="773.8" font-size="67.1">Input curve</text>
<text x="2584.6" y="839.3" font-size="67.1">Two-wave-1 method</text>
<text x="2584.6" y="905.7" font-size="67.1">Two-wave-2 method</text>
<text x="2584.6" y="973.7" font-size="67.1">Three-wave method</text>
</g>
<path d="M2458.5 755.5 H2551.5" stroke="#1a1a1a" stroke-width="3.6"/>
<rect x="2492.8" y="743.2" width="21.5" height="24.5" fill="#1a1a1a"/>
<path d="M2458.5 819.8 H2551.5" stroke="#fb1a1a" stroke-width="3.2"/>
<ellipse cx="2503.5" cy="819.8" rx="11" ry="13.2" fill="#fb1a1a"/>
<path d="M2458.5 887.9 H2551.5" stroke="#1a1afb" stroke-width="3.2"/>
<path d="M2503.5 870.9 L2517.3 896.9 L2489.7 896.9 Z" fill="#1a1afb"/>
<path d="M2458.5 956.5 H2551.5" stroke="#ff1aff" stroke-width="3.2"/>
<path d="M2503.5 973.0 L2517.3 945.5 L2489.7 945.5 Z" fill="#ff1aff"/>
</svg>
</body></html>
